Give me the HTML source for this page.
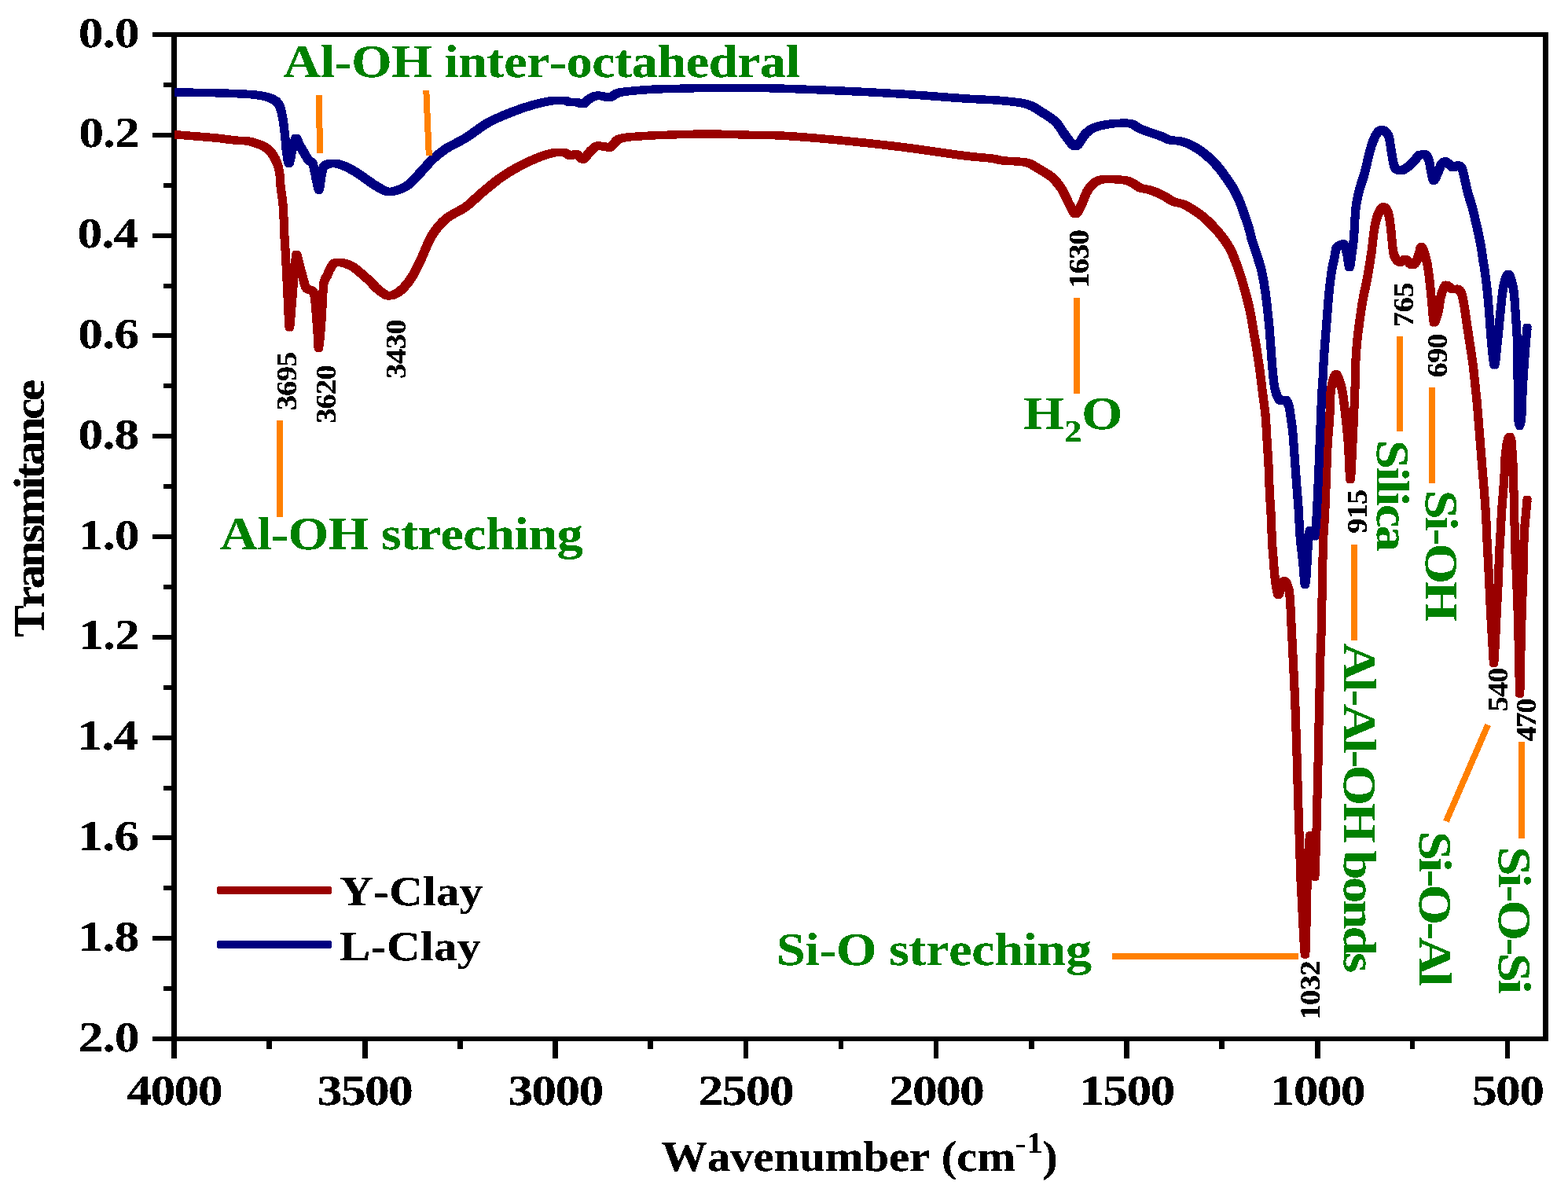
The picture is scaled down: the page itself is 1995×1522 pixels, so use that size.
<!DOCTYPE html>
<html lang="en"><head><meta charset="utf-8"><title>FTIR spectra of Y-Clay and L-Clay</title>
<style>html,body{margin:0;padding:0;background:#fff}svg{display:block}text{font-family:"Liberation Serif","DejaVu Serif",serif;font-weight:bold;font-kerning:none;white-space:pre}</style></head><body>
<svg width="1995" height="1522" viewBox="0 0 1995 1522">
<rect width="1995" height="1522" fill="#fff"/>
<path fill="#000" shape-rendering="crispEdges" d="M218 41H1970V47H218ZM218 1319H1970V1325H218ZM218 41H225V1325H218ZM1963 41H1970V1325H1963ZM194 41H219V47H194ZM208 105H219V111H208ZM194 169H219V175H194ZM208 233H219V239H208ZM194 297H219V303H194ZM208 361H219V367H208ZM194 424H219V430H194ZM208 488H219V494H208ZM194 552H219V558H194ZM208 616H219V622H208ZM194 680H219V686H194ZM208 744H219V750H208ZM194 808H219V814H194ZM208 872H219V878H208ZM194 936H219V942H194ZM208 1000H219V1006H208ZM194 1063H219V1069H194ZM208 1127H219V1133H208ZM194 1191H219V1197H194ZM208 1255H219V1261H208ZM194 1319H219V1325H194ZM218 1324H225V1347H218ZM339 1324H346V1335H339ZM461 1324H468V1347H461ZM582 1324H589V1335H582ZM703 1324H710V1347H703ZM824 1324H831V1335H824ZM946 1324H952V1347H946ZM1067 1324H1073V1335H1067ZM1188 1324H1194V1347H1188ZM1309 1324H1316V1335H1309ZM1430 1324H1437V1347H1430ZM1551 1324H1558V1335H1551ZM1673 1324H1680V1347H1673ZM1794 1324H1800V1335H1794ZM1915 1324H1921V1347H1915Z"/>
<clipPath id="plot"><rect x="222" y="44" width="1744.5" height="1278"/></clipPath>
<g clip-path="url(#plot)"><g fill="none" shape-rendering="crispEdges" stroke-linejoin="round" stroke-linecap="round" stroke-width="7">
<g stroke="#990000">
<path d="M219.5 169.5C224.2 169.9 239 171.1 248 171.8C257 172.6 265.4 173.2 273.7 174C282 174.9 291.4 176.3 298 176.9C304.6 177.6 308.8 177.4 313 177.9C317.2 178.5 319.9 179.5 323 180.4C326.1 181.4 329.1 182.3 331.8 183.7C334.5 185 337.1 186.6 339.4 188.7C341.7 190.7 343.7 193.2 345.6 196.2C347.5 199.1 349.2 202.4 350.6 206.2C352 209.9 353.1 213.9 353.8 218.8C354.5 223.6 354.4 229.1 355 234.9C355.6 240.8 356.9 248.2 357.5 253.8C358.1 259.3 358.5 262.4 358.8 268.4C359.1 274.3 359 280.9 359.4 289.7C359.8 298.4 360.7 309.6 361.3 321.1C361.9 332.6 362.7 348.2 363.2 358.7C363.7 369.1 363.9 374.3 364.4 383.7C364.9 393 365.5 414.9 366.3 414.9C367.1 414.9 368.5 394.1 369.4 383.7C370.3 373.2 370.9 362.6 371.9 352.4C372.8 342.1 374 325.1 375.1 322.2C376.2 322.2 377.5 329.9 378.8 334.8C380.1 339.6 381.8 346.2 383.2 351.1C384.6 355.9 385.6 361 387 363.7C388.4 366.3 389.9 366.3 391.4 367.2C392.8 368 394.5 367.2 395.7 368.7C396.9 370.2 397.6 371.6 398.3 376.2C399 380.7 399.5 388.6 400.1 396.2C400.7 403.7 401.5 413.8 402 421.2C402.5 428.8 402.7 441.2 403.3 441.2C403.9 441.2 405.1 428.8 405.8 421.2C406.5 413.8 407.1 404.5 407.6 396.2C408.1 387.8 408.5 377.6 408.9 371.2C409.3 364.7 409.3 361.1 410.2 357.4C411.1 353.6 413.1 351.5 414.5 348.6C415.9 345.6 416.8 342.4 418.3 339.9C419.8 337.3 421.4 334.5 423.3 333.2C425.2 332.2 427.5 332.2 429.6 332.2C431.7 332.2 433.1 332.4 435.8 333.2C438.5 334.1 442.5 335.3 445.9 337.2C449.2 339.2 452.3 341.9 455.9 344.9C459.4 347.8 463.2 351.1 467.2 354.9C471.2 358.6 475.5 364 479.7 367.4C483.9 370.7 488.2 374.2 492.2 374.9C496.2 374.9 499.9 373.2 503.5 371.2C507.1 369.1 510.1 366.1 513.5 362.4C516.9 358.6 520.2 354.2 523.6 348.6C527 342.9 529.5 337.1 533.6 328.6C537.7 320 542.6 306 548 297.4C553.4 288.7 558.6 282.5 565.7 276.6C572.8 270.6 583.2 267 590.7 261.6C598.2 256.1 603.3 250.2 610.8 243.9C618.3 237.7 627.4 229.8 635.8 223.9C644.1 218.1 652.5 213.2 660.9 208.8C669.3 204.4 678.9 200.3 686 197.5C693.1 194.8 698.5 193.4 703.5 192.5C708.5 192.5 712.6 192.5 716 192.5C719.4 193.2 721.1 196 723.6 196.3C726.1 196.3 728.3 194.3 731 194.3C733.7 195.1 737 200.8 739.9 200.8C742.8 200.3 745.5 194.2 748.6 191.3C751.7 188.5 754.5 184.8 758.7 183.8C762.9 183.8 769.1 185.8 773.7 185.8C778.3 184.4 779.9 177.4 786.2 175C792.5 172.7 800.8 172.6 811.3 171.8C821.8 170.9 834.3 170.5 848.9 170C863.5 169.5 882.3 168.8 899 168.8C915.7 168.8 932.6 169.6 949.1 170C965.6 170.5 977.3 170 998 171.2C1018.7 172.5 1048.1 175.1 1073.2 177.5C1098.3 180 1123.3 182.7 1148.4 185.8C1173.5 189 1204.8 194 1223.6 196.3C1242.4 198.7 1252.8 199.1 1261.2 200.2C1269.6 201.2 1266.6 201.8 1273.7 202.7C1280.8 203.5 1296.3 203.5 1303.8 205.2C1311.3 206.8 1313.4 209.5 1318.8 212.7C1324.2 215.8 1331.3 219.6 1336.3 223.9C1341.3 228.3 1345.1 233.1 1348.9 238.9C1352.7 244.8 1356 253.8 1358.9 259.1C1361.8 264.3 1363.9 270.6 1366.4 270.6C1368.9 270.6 1371.4 263.9 1373.9 259.1C1376.4 254.2 1378.6 246.3 1381.5 241.4C1384.4 236.6 1387.8 232.7 1391.5 230.2C1395.2 227.6 1397.7 226.8 1404 226.3C1410.3 226.3 1423.2 226.8 1429.1 227.7C1434.9 228.5 1435.8 229.7 1439.1 231.3C1442.4 233 1445.3 236.2 1449.1 237.7C1452.9 239.1 1456.7 238.6 1461.7 240.2C1466.7 241.9 1474.4 245.3 1479.2 247.8C1484 250.2 1486.5 253.1 1490.5 254.8C1494.5 256.6 1498.8 256.4 1503 258.1C1507.2 259.7 1511.4 262.4 1515.6 265C1519.8 267.6 1523.9 270.2 1528.1 273.7C1532.3 277.1 1536.5 281.2 1540.7 285.6C1544.9 289.9 1549.5 295.1 1553.2 300.1C1557 305 1560.6 310.3 1563.2 315.1C1565.8 319.8 1567 323.6 1568.9 328.4C1570.8 333.1 1572.3 336.8 1574.5 343.5C1576.7 350.1 1579.7 360.1 1582 368.5C1584.3 376.8 1586.5 385.2 1588.3 393.6C1590.1 401.9 1591.2 410.3 1592.7 418.7C1594.2 427 1595.7 435.3 1597 443.7C1598.3 452 1599.6 460.4 1600.8 468.8C1602 477.1 1603.1 487.1 1603.9 493.8C1604.7 500.4 1605.1 502.4 1605.8 508.4C1606.5 514.3 1607.6 520.9 1608.3 529.6C1609 538.4 1609.6 550.6 1610.2 561.1C1610.8 571.5 1611.6 581.9 1612.1 592.4C1612.6 602.8 1612.8 613.2 1613.3 623.6C1613.8 634.1 1614.7 644.2 1615.2 655C1615.7 665.7 1616.1 680.3 1616.5 688.4C1616.9 696.4 1617.2 696.8 1617.7 703.5C1618.2 710.1 1618.9 721.3 1619.6 728.5C1620.3 735.6 1621.2 741.9 1622 746.4C1622.8 750.8 1623.6 755.1 1624.6 755.1C1625.6 755.1 1626.8 749.2 1628 746.4C1629.2 743.5 1630.5 737.9 1632.1 737.9C1633.7 738.2 1636.5 743.9 1637.8 748.6C1639.1 753.3 1639.2 759 1639.7 766.1C1640.2 773.2 1640.5 782.8 1640.9 791.1C1641.3 799.5 1641.8 807.8 1642.2 816.1C1642.6 824.5 1643 832.5 1643.4 841.2C1643.8 850 1644.3 859.2 1644.7 868.4C1645.1 877.5 1645.5 885.1 1645.9 896C1646.3 906.8 1646.8 921 1647.2 933.6C1647.6 946.1 1648 958.6 1648.4 971.1C1648.8 983.7 1649 995.9 1649.4 1008.8C1649.8 1021.6 1650.3 1037.1 1650.7 1048.3C1651.1 1059.5 1651.2 1065.1 1651.6 1075.9C1651.9 1086.8 1652.3 1101 1652.8 1113.5C1653.3 1126.1 1654.1 1138.6 1654.7 1151.1C1655.3 1163.7 1656 1178.5 1656.6 1188.8C1657.2 1199 1658 1212.9 1658.5 1212.9C1659 1212.9 1659.5 1199.1 1659.8 1188.3C1660.1 1177.6 1660.2 1161.7 1660.5 1148.3C1660.8 1135 1661.2 1119.2 1661.6 1108.3C1662 1097.5 1662.2 1091.1 1662.8 1083.3C1663.4 1075.6 1664.2 1061.8 1665 1061.8C1665.8 1061.8 1667 1076.4 1667.8 1083.3C1668.6 1090.3 1669.5 1098.2 1670 1103.3C1670.5 1108.4 1670.7 1113.9 1671 1113.9C1671.3 1113.6 1671.5 1107.4 1671.7 1101C1671.9 1094.7 1672 1084.7 1672.2 1075.9C1672.5 1067.2 1672.9 1059.5 1673.2 1048.3C1673.5 1037.1 1673.8 1021.6 1674.1 1008.8C1674.4 995.9 1674.7 983.7 1675 971.1C1675.3 958.6 1675.4 946.1 1675.7 933.6C1676 921 1676.3 906.8 1676.6 896C1676.8 885.1 1677 878.5 1677.2 868.4C1677.4 858.2 1677.6 845.7 1677.9 835C1678.2 824.2 1678.8 814.1 1679.1 803.6C1679.4 793.2 1679.6 782.8 1679.8 772.4C1680 761.9 1680.2 751.5 1680.4 741.1C1680.6 730.6 1680.7 720.1 1681 709.6C1681.3 699.2 1681.6 687.5 1682 678.4C1682.4 669.2 1683 664.1 1683.5 655C1684 645.8 1684.4 634.1 1684.8 623.6C1685.2 613.2 1685.6 602.8 1686 592.4C1686.4 581.9 1686.7 571.5 1687.3 561.1C1687.9 550.6 1689.2 540.1 1689.8 529.6C1690.4 519.2 1690.3 506.2 1691 498.4C1691.7 490.5 1692.8 486.3 1694 482.4C1695.2 478.4 1696.6 474.8 1697.9 474.8C1699.2 474.8 1700.6 478.4 1702 482.4C1703.4 486.3 1705 490.7 1706.3 498.4C1707.6 506 1708.8 517.9 1710 528.4C1711.2 538.8 1712.2 547.7 1713.2 561.1C1714.2 574.4 1715.1 608.6 1716.1 608.6C1717.1 608.6 1718 579.4 1719 561.1C1720 542.7 1721.1 515.8 1721.8 498.4C1722.5 480.9 1722.5 467.4 1723 456.2C1723.5 445 1724.1 439.5 1724.9 431.2C1725.7 422.8 1726.8 414.4 1728 406.1C1729.2 397.7 1730.1 390.4 1731.8 381.1C1733.5 371.7 1736.2 360.1 1738.1 349.7C1740 339.2 1741.6 328.5 1743.1 318.4C1744.5 308.2 1745.3 296.8 1746.8 288.8C1748.2 280.7 1749.9 274.5 1751.8 270C1753.7 265.5 1756 261.8 1758.1 261.8C1760.2 261.8 1762.8 265.5 1764.4 270C1766 274.5 1766.7 282.5 1767.5 288.8C1768.3 295 1768.7 301.7 1769.4 307.6C1770.1 313.4 1770.2 319.8 1771.9 323.9C1773.6 328 1777.1 331.4 1779.4 332.2C1781.7 332.2 1783.2 328.2 1785.7 328.2C1788.2 328.7 1792.1 335 1794.4 335.7C1796.7 335.7 1798 334.4 1799.5 332.2C1801 329.9 1802 325.4 1803.2 322.2C1804.4 318.9 1804.8 312.8 1806.5 312.8C1808.2 314.2 1811.5 323.7 1813.2 330.9C1815 338.1 1816 347.6 1817 356C1818 364.3 1818.6 372.2 1819.5 381.1C1820.4 389.9 1821.1 406.8 1822.6 408.9C1824.1 408.9 1826.8 399.2 1828.3 393.6C1829.8 387.9 1829.8 380.2 1831.4 374.8C1833 369.3 1835.3 362.3 1837.7 361C1840.1 361 1843.4 365.7 1845.8 366.6C1848.2 366.6 1850.2 366 1852.1 366C1854 366.7 1855.6 367.4 1857.1 371C1858.6 374.5 1859.7 380.4 1860.9 387.2C1862.2 394.1 1863.3 404 1864.6 412.4C1865.8 420.7 1867.2 429 1868.4 437.4C1869.7 445.7 1871 454.1 1872.1 462.5C1873.2 470.8 1874 479.9 1874.8 487.6C1875.6 495.2 1876.3 501.3 1877 508.4C1877.7 515.4 1878.1 520.9 1878.8 529.6C1879.5 538.4 1880.5 550.6 1881.3 561.1C1882.1 571.5 1882.9 581.9 1883.8 592.4C1884.7 602.8 1885.6 613.2 1886.4 623.6C1887.2 634.1 1888 644.2 1888.6 655C1889.2 665.7 1889.6 678.2 1890.1 688.4C1890.6 698.5 1891 705.1 1891.6 716C1892.1 726.8 1892.8 741 1893.4 753.6C1894 766.1 1894.7 779.7 1895.3 791.1C1895.9 802.6 1896.7 813.9 1897.2 822.5C1897.7 831 1898.1 841.2 1898.5 842.2C1898.9 842.2 1899.3 835.2 1899.7 828.8C1900.1 822.3 1900.6 812 1901 803.6C1901.4 795.3 1901.8 787 1902.2 778.6C1902.6 770.3 1903.1 761.9 1903.5 753.6C1903.9 745.2 1904.4 736.8 1904.7 728.5C1905 720.1 1905.2 710.5 1905.5 703.5C1905.8 696.4 1906.2 693 1906.6 686.4C1907 679.7 1907.4 670.5 1907.8 663.4C1908.2 656.2 1908.5 650 1909 643.4C1909.5 636.7 1910.1 630 1910.6 623.4C1911.1 616.7 1911.7 608.5 1912 603.4C1912.3 598.2 1912.1 596.1 1912.3 592.4C1912.5 588.6 1912.7 584.1 1913 581C1913.3 577.8 1913.5 576.6 1913.9 573.4C1914.3 570.1 1914.8 564.5 1915.6 561.4C1916.4 558.2 1917.7 554.4 1918.6 554.4C1919.5 554.4 1920.5 557.4 1921.1 561C1921.7 564.6 1921.9 571.4 1922.2 576C1922.5 580.5 1922.8 583.8 1923 588.4C1923.2 592.9 1923.1 597.5 1923.3 603.4C1923.5 609.2 1923.8 616.1 1924 623.6C1924.2 631.2 1924.6 638.3 1924.8 648.8C1925 659.2 1925 673.1 1925.4 686.4C1925.8 699.6 1926.7 713.1 1927.3 728.5C1927.9 743.8 1928.7 761.9 1929.2 778.6C1929.7 795.4 1930 811.7 1930.4 828.8C1930.8 845.8 1931.3 881 1931.7 881C1932.1 881 1932.5 845.8 1932.9 828.8C1933.3 811.7 1933.7 795.4 1934.2 778.6C1934.7 761.9 1935.5 745.1 1936 728.4C1936.5 711.6 1936.8 690.6 1937.3 678.4C1937.8 666.1 1938.6 662.2 1939.2 655C1939.8 647.7 1940.8 638 1941.1 634.6"/>
<path d="M223.5 169.5C228.2 169.9 243 171.1 252 171.8C261 172.6 269.4 173.2 277.7 174C286 174.9 295.4 176.3 302 176.9C308.6 177.6 312.8 177.4 317 177.9C321.2 178.5 323.9 179.5 327 180.4C330.1 181.4 333.1 182.3 335.8 183.7C338.5 185 341.1 186.6 343.4 188.7C345.7 190.7 347.7 193.2 349.6 196.2C351.5 199.1 353.2 202.4 354.6 206.2C356 209.9 357.1 213.9 357.8 218.8C358.5 223.6 358.4 229.1 359 234.9C359.6 240.8 360.9 248.2 361.5 253.8C362.1 259.3 362.5 262.4 362.8 268.4C363.1 274.3 363 280.9 363.4 289.7C363.8 298.4 364.7 309.6 365.3 321.1C365.9 332.6 366.7 348.2 367.2 358.7C367.7 369.1 367.9 374.3 368.4 383.7C368.9 393 369.5 414.9 370.3 414.9C371.1 414.9 372.5 394.1 373.4 383.7C374.3 373.2 374.9 362.6 375.9 352.4C376.8 342.1 378 325.1 379.1 322.2C380.2 322.2 381.5 329.9 382.8 334.8C384.1 339.6 385.8 346.2 387.2 351.1C388.6 355.9 389.6 361 391 363.7C392.4 366.3 393.9 366.3 395.4 367.2C396.8 368 398.5 367.2 399.7 368.7C400.9 370.2 401.6 371.6 402.3 376.2C403 380.7 403.5 388.6 404.1 396.2C404.7 403.7 405.5 413.8 406 421.2C406.5 428.8 406.7 441.2 407.3 441.2C407.9 441.2 409.1 428.8 409.8 421.2C410.5 413.8 411.1 404.5 411.6 396.2C412.1 387.8 412.5 377.6 412.9 371.2C413.3 364.7 413.3 361.1 414.2 357.4C415.1 353.6 417.1 351.5 418.5 348.6C419.9 345.6 420.8 342.4 422.3 339.9C423.8 337.3 425.4 334.5 427.3 333.2C429.2 332.2 431.5 332.2 433.6 332.2C435.7 332.2 437.1 332.4 439.8 333.2C442.5 334.1 446.5 335.3 449.9 337.2C453.2 339.2 456.3 341.9 459.9 344.9C463.4 347.8 467.2 351.1 471.2 354.9C475.2 358.6 479.5 364 483.7 367.4C487.9 370.7 492.2 374.2 496.2 374.9C500.2 374.9 503.9 373.2 507.5 371.2C511.1 369.1 514.1 366.1 517.5 362.4C520.9 358.6 524.2 354.2 527.6 348.6C531 342.9 533.5 337.1 537.6 328.6C541.7 320 546.6 306 552 297.4C557.4 288.7 562.6 282.5 569.7 276.6C576.8 270.6 587.2 267 594.7 261.6C602.2 256.1 607.3 250.2 614.8 243.9C622.3 237.7 631.4 229.8 639.8 223.9C648.1 218.1 656.5 213.2 664.9 208.8C673.3 204.4 682.9 200.3 690 197.5C697.1 194.8 702.5 193.4 707.5 192.5C712.5 192.5 716.6 192.5 720 192.5C723.4 193.2 725.1 196 727.6 196.3C730.1 196.3 732.3 194.3 735 194.3C737.7 195.1 741 200.8 743.9 200.8C746.8 200.3 749.5 194.2 752.6 191.3C755.7 188.5 758.5 184.8 762.7 183.8C766.9 183.8 773.1 185.8 777.7 185.8C782.3 184.4 783.9 177.4 790.2 175C796.5 172.7 804.8 172.6 815.3 171.8C825.8 170.9 838.3 170.5 852.9 170C867.5 169.5 886.3 168.8 903 168.8C919.7 168.8 936.6 169.6 953.1 170C969.6 170.5 981.3 170 1002 171.2C1022.7 172.5 1052.1 175.1 1077.2 177.5C1102.3 180 1127.3 182.7 1152.4 185.8C1177.5 189 1208.8 194 1227.6 196.3C1246.4 198.7 1256.8 199.1 1265.2 200.2C1273.6 201.2 1270.6 201.8 1277.7 202.7C1284.8 203.5 1300.3 203.5 1307.8 205.2C1315.3 206.8 1317.4 209.5 1322.8 212.7C1328.2 215.8 1335.3 219.6 1340.3 223.9C1345.3 228.3 1349.1 233.1 1352.9 238.9C1356.7 244.8 1360 253.8 1362.9 259.1C1365.8 264.3 1367.9 270.6 1370.4 270.6C1372.9 270.6 1375.4 263.9 1377.9 259.1C1380.4 254.2 1382.6 246.3 1385.5 241.4C1388.4 236.6 1391.8 232.7 1395.5 230.2C1399.2 227.6 1401.7 226.8 1408 226.3C1414.3 226.3 1427.2 226.8 1433.1 227.7C1438.9 228.5 1439.8 229.7 1443.1 231.3C1446.4 233 1449.3 236.2 1453.1 237.7C1456.9 239.1 1460.7 238.6 1465.7 240.2C1470.7 241.9 1478.4 245.3 1483.2 247.8C1488 250.2 1490.5 253.1 1494.5 254.8C1498.5 256.6 1502.8 256.4 1507 258.1C1511.2 259.7 1515.4 262.4 1519.6 265C1523.8 267.6 1527.9 270.2 1532.1 273.7C1536.3 277.1 1540.5 281.2 1544.7 285.6C1548.9 289.9 1553.5 295.1 1557.2 300.1C1561 305 1564.6 310.3 1567.2 315.1C1569.8 319.8 1571 323.6 1572.9 328.4C1574.8 333.1 1576.3 336.8 1578.5 343.5C1580.7 350.1 1583.7 360.1 1586 368.5C1588.3 376.8 1590.5 385.2 1592.3 393.6C1594.1 401.9 1595.2 410.3 1596.7 418.7C1598.2 427 1599.7 435.3 1601 443.7C1602.3 452 1603.6 460.4 1604.8 468.8C1606 477.1 1607.1 487.1 1607.9 493.8C1608.7 500.4 1609.1 502.4 1609.8 508.4C1610.5 514.3 1611.6 520.9 1612.3 529.6C1613 538.4 1613.6 550.6 1614.2 561.1C1614.8 571.5 1615.6 581.9 1616.1 592.4C1616.6 602.8 1616.8 613.2 1617.3 623.6C1617.8 634.1 1618.7 644.2 1619.2 655C1619.7 665.7 1620.1 680.3 1620.5 688.4C1620.9 696.4 1621.2 696.8 1621.7 703.5C1622.2 710.1 1622.9 721.3 1623.6 728.5C1624.3 735.6 1625.2 741.9 1626 746.4C1626.8 750.8 1627.6 755.1 1628.6 755.1C1629.6 755.1 1630.8 749.2 1632 746.4C1633.2 743.5 1634.5 737.9 1636.1 737.9C1637.7 738.2 1640.5 743.9 1641.8 748.6C1643.1 753.3 1643.2 759 1643.7 766.1C1644.2 773.2 1644.5 782.8 1644.9 791.1C1645.3 799.5 1645.8 807.8 1646.2 816.1C1646.6 824.5 1647 832.5 1647.4 841.2C1647.8 850 1648.3 859.2 1648.7 868.4C1649.1 877.5 1649.5 885.1 1649.9 896C1650.3 906.8 1650.8 921 1651.2 933.6C1651.6 946.1 1652 958.6 1652.4 971.1C1652.8 983.7 1653 995.9 1653.4 1008.8C1653.8 1021.6 1654.3 1037.1 1654.7 1048.3C1655.1 1059.5 1655.2 1065.1 1655.6 1075.9C1655.9 1086.8 1656.3 1101 1656.8 1113.5C1657.3 1126.1 1658.1 1138.6 1658.7 1151.1C1659.3 1163.7 1660 1178.5 1660.6 1188.8C1661.2 1199 1662 1212.9 1662.5 1212.9C1663 1212.9 1663.5 1199.1 1663.8 1188.3C1664.1 1177.6 1664.2 1161.7 1664.5 1148.3C1664.8 1135 1665.2 1119.2 1665.6 1108.3C1666 1097.5 1666.2 1091.1 1666.8 1083.3C1667.4 1075.6 1668.2 1061.8 1669 1061.8C1669.8 1061.8 1671 1076.4 1671.8 1083.3C1672.6 1090.3 1673.5 1098.2 1674 1103.3C1674.5 1108.4 1674.7 1113.9 1675 1113.9C1675.3 1113.6 1675.5 1107.4 1675.7 1101C1675.9 1094.7 1676 1084.7 1676.2 1075.9C1676.5 1067.2 1676.9 1059.5 1677.2 1048.3C1677.5 1037.1 1677.8 1021.6 1678.1 1008.8C1678.4 995.9 1678.7 983.7 1679 971.1C1679.3 958.6 1679.4 946.1 1679.7 933.6C1680 921 1680.3 906.8 1680.6 896C1680.8 885.1 1681 878.5 1681.2 868.4C1681.4 858.2 1681.6 845.7 1681.9 835C1682.2 824.2 1682.8 814.1 1683.1 803.6C1683.4 793.2 1683.6 782.8 1683.8 772.4C1684 761.9 1684.2 751.5 1684.4 741.1C1684.6 730.6 1684.7 720.1 1685 709.6C1685.3 699.2 1685.6 687.5 1686 678.4C1686.4 669.2 1687 664.1 1687.5 655C1688 645.8 1688.4 634.1 1688.8 623.6C1689.2 613.2 1689.6 602.8 1690 592.4C1690.4 581.9 1690.7 571.5 1691.3 561.1C1691.9 550.6 1693.2 540.1 1693.8 529.6C1694.4 519.2 1694.3 506.2 1695 498.4C1695.7 490.5 1696.8 486.3 1698 482.4C1699.2 478.4 1700.6 474.8 1701.9 474.8C1703.2 474.8 1704.6 478.4 1706 482.4C1707.4 486.3 1709 490.7 1710.3 498.4C1711.6 506 1712.8 517.9 1714 528.4C1715.2 538.8 1716.2 547.7 1717.2 561.1C1718.2 574.4 1719.1 608.6 1720.1 608.6C1721.1 608.6 1722 579.4 1723 561.1C1724 542.7 1725.1 515.8 1725.8 498.4C1726.5 480.9 1726.5 467.4 1727 456.2C1727.5 445 1728.1 439.5 1728.9 431.2C1729.7 422.8 1730.8 414.4 1732 406.1C1733.2 397.7 1734.1 390.4 1735.8 381.1C1737.5 371.7 1740.2 360.1 1742.1 349.7C1744 339.2 1745.6 328.5 1747.1 318.4C1748.5 308.2 1749.3 296.8 1750.8 288.8C1752.2 280.7 1753.9 274.5 1755.8 270C1757.7 265.5 1760 261.8 1762.1 261.8C1764.2 261.8 1766.8 265.5 1768.4 270C1770 274.5 1770.7 282.5 1771.5 288.8C1772.3 295 1772.7 301.7 1773.4 307.6C1774.1 313.4 1774.2 319.8 1775.9 323.9C1777.6 328 1781.1 331.4 1783.4 332.2C1785.7 332.2 1787.2 328.2 1789.7 328.2C1792.2 328.7 1796.1 335 1798.4 335.7C1800.7 335.7 1802 334.4 1803.5 332.2C1805 329.9 1806 325.4 1807.2 322.2C1808.4 318.9 1808.8 312.8 1810.5 312.8C1812.2 314.2 1815.5 323.7 1817.2 330.9C1819 338.1 1820 347.6 1821 356C1822 364.3 1822.6 372.2 1823.5 381.1C1824.4 389.9 1825.1 406.8 1826.6 408.9C1828.1 408.9 1830.8 399.2 1832.3 393.6C1833.8 387.9 1833.8 380.2 1835.4 374.8C1837 369.3 1839.3 362.3 1841.7 361C1844.1 361 1847.4 365.7 1849.8 366.6C1852.2 366.6 1854.2 366 1856.1 366C1858 366.7 1859.6 367.4 1861.1 371C1862.6 374.5 1863.7 380.4 1864.9 387.2C1866.2 394.1 1867.3 404 1868.6 412.4C1869.8 420.7 1871.2 429 1872.4 437.4C1873.7 445.7 1875 454.1 1876.1 462.5C1877.2 470.8 1878 479.9 1878.8 487.6C1879.6 495.2 1880.3 501.3 1881 508.4C1881.7 515.4 1882.1 520.9 1882.8 529.6C1883.5 538.4 1884.5 550.6 1885.3 561.1C1886.1 571.5 1886.9 581.9 1887.8 592.4C1888.7 602.8 1889.6 613.2 1890.4 623.6C1891.2 634.1 1892 644.2 1892.6 655C1893.2 665.7 1893.6 678.2 1894.1 688.4C1894.6 698.5 1895 705.1 1895.6 716C1896.1 726.8 1896.8 741 1897.4 753.6C1898 766.1 1898.7 779.7 1899.3 791.1C1899.9 802.6 1900.7 813.9 1901.2 822.5C1901.7 831 1902.1 841.2 1902.5 842.2C1902.9 842.2 1903.3 835.2 1903.7 828.8C1904.1 822.3 1904.6 812 1905 803.6C1905.4 795.3 1905.8 787 1906.2 778.6C1906.6 770.3 1907.1 761.9 1907.5 753.6C1907.9 745.2 1908.4 736.8 1908.7 728.5C1909 720.1 1909.2 710.5 1909.5 703.5C1909.8 696.4 1910.2 693 1910.6 686.4C1911 679.7 1911.4 670.5 1911.8 663.4C1912.2 656.2 1912.5 650 1913 643.4C1913.5 636.7 1914.1 630 1914.6 623.4C1915.1 616.7 1915.7 608.5 1916 603.4C1916.3 598.2 1916.1 596.1 1916.3 592.4C1916.5 588.6 1916.7 584.1 1917 581C1917.3 577.8 1917.5 576.6 1917.9 573.4C1918.3 570.1 1918.8 564.5 1919.6 561.4C1920.4 558.2 1921.7 554.4 1922.6 554.4C1923.5 554.4 1924.5 557.4 1925.1 561C1925.7 564.6 1925.9 571.4 1926.2 576C1926.5 580.5 1926.8 583.8 1927 588.4C1927.2 592.9 1927.1 597.5 1927.3 603.4C1927.5 609.2 1927.8 616.1 1928 623.6C1928.2 631.2 1928.6 638.3 1928.8 648.8C1929 659.2 1929 673.1 1929.4 686.4C1929.8 699.6 1930.7 713.1 1931.3 728.5C1931.9 743.8 1932.7 761.9 1933.2 778.6C1933.7 795.4 1934 811.7 1934.4 828.8C1934.8 845.8 1935.3 881 1935.7 881C1936.1 881 1936.5 845.8 1936.9 828.8C1937.3 811.7 1937.7 795.4 1938.2 778.6C1938.7 761.9 1939.5 745.1 1940 728.4C1940.5 711.6 1940.8 690.6 1941.3 678.4C1941.8 666.1 1942.6 662.2 1943.2 655C1943.8 647.7 1944.8 638 1945.1 634.6"/>
<path d="M219.5 172.8C224.2 173.2 239 174.4 248 175.2C257 175.9 265.4 176.5 273.7 177.3C282 178.2 291.4 179.6 298 180.2C304.6 180.9 308.8 180.7 313 181.2C317.2 181.8 319.9 182.8 323 183.8C326.1 184.7 329.1 185.6 331.8 187C334.5 188.3 337.1 189.9 339.4 192C341.7 194 343.7 196.5 345.6 199.5C347.5 202.4 349.2 205.7 350.6 209.5C352 213.2 353.1 217.2 353.8 222.1C354.5 226.9 354.4 232.4 355 238.2C355.6 244.1 356.9 251.5 357.5 257.1C358.1 262.6 358.5 265.7 358.8 271.6C359.1 277.6 359 284.2 359.4 292.9C359.8 301.7 360.7 312.8 361.3 324.3C361.9 335.8 362.7 351.5 363.2 361.9C363.7 372.4 363.9 377.6 364.4 386.9C364.9 396.3 365.5 418.1 366.3 418.1C367.1 418.1 368.5 397.4 369.4 386.9C370.3 376.5 370.9 365.9 371.9 355.6C372.8 345.4 374 328.4 375.1 325.4C376.2 325.4 377.5 333.2 378.8 338C380.1 342.9 381.8 349.5 383.2 354.3C384.6 359.2 385.6 364.3 387 366.9C388.4 369.6 389.9 369.6 391.4 370.4C392.8 371.3 394.5 370.4 395.7 371.9C396.9 373.4 397.6 374.9 398.3 379.4C399 384 399.5 391.9 400.1 399.4C400.7 407 401.5 417 402 424.5C402.5 432 402.7 444.4 403.3 444.4C403.9 444.4 405.1 432 405.8 424.5C406.5 417 407.1 407.8 407.6 399.4C408.1 391.1 408.5 380.9 408.9 374.4C409.3 368 409.3 364.4 410.2 360.6C411.1 356.9 413.1 354.8 414.5 351.8C415.9 348.9 416.8 345.7 418.3 343.1C419.8 340.6 421.4 337.8 423.3 336.5C425.2 335.5 427.5 335.5 429.6 335.5C431.7 335.5 433.1 335.7 435.8 336.5C438.5 337.4 442.5 338.6 445.9 340.5C449.2 342.5 452.3 345.2 455.9 348.1C459.4 351.1 463.2 354.4 467.2 358.1C471.2 361.9 475.5 367.3 479.7 370.6C483.9 374 488.2 377.5 492.2 378.1C496.2 378.1 499.9 376.5 503.5 374.4C507.1 372.4 510.1 369.4 513.5 365.6C516.9 361.9 520.2 357.5 523.6 351.8C527 346.2 529.5 340.4 533.6 331.8C537.7 323.3 542.6 309.3 548 300.6C553.4 292 558.6 285.8 565.7 279.8C572.8 273.9 583.2 270.3 590.7 264.8C598.2 259.4 603.3 253.5 610.8 247.2C618.3 241 627.4 233.1 635.8 227.2C644.1 221.4 652.5 216.6 660.9 212.2C669.3 207.8 678.9 203.6 686 200.8C693.1 198.1 698.5 196.7 703.5 195.8C708.5 195.8 712.6 195.8 716 195.8C719.4 196.5 721.1 199.3 723.6 199.7C726.1 199.7 728.3 197.7 731 197.7C733.7 198.4 737 204.2 739.9 204.2C742.8 203.7 745.5 197.5 748.6 194.7C751.7 191.8 754.5 188.1 758.7 187.2C762.9 187.2 769.1 189.2 773.7 189.2C778.3 187.7 779.9 180.7 786.2 178.3C792.5 176 800.8 175.9 811.3 175.1C821.8 174.2 834.3 173.8 848.9 173.3C863.5 172.8 882.3 172.1 899 172.1C915.7 172.1 932.6 172.9 949.1 173.3C965.6 173.8 977.3 173.3 998 174.6C1018.7 175.8 1048.1 178.4 1073.2 180.8C1098.3 183.3 1123.3 186 1148.4 189.2C1173.5 192.3 1204.8 197.3 1223.6 199.7C1242.4 202 1252.8 202.4 1261.2 203.5C1269.6 204.5 1266.6 205.1 1273.7 206C1280.8 206.8 1296.3 206.8 1303.8 208.5C1311.3 210.1 1313.4 212.8 1318.8 216C1324.2 219.1 1331.3 222.9 1336.3 227.2C1341.3 231.6 1345.1 236.4 1348.9 242.2C1352.7 248.1 1356 257.1 1358.9 262.3C1361.8 267.6 1363.9 273.8 1366.4 273.8C1368.9 273.8 1371.4 267.2 1373.9 262.3C1376.4 257.5 1378.6 249.6 1381.5 244.8C1384.4 239.9 1387.8 236 1391.5 233.5C1395.2 230.9 1397.7 230.1 1404 229.7C1410.3 229.7 1423.2 230.1 1429.1 231C1434.9 231.8 1435.8 233 1439.1 234.7C1442.4 236.3 1445.3 239.5 1449.1 241C1452.9 242.4 1456.7 241.9 1461.7 243.6C1466.7 245.2 1474.4 248.6 1479.2 251.1C1484 253.5 1486.5 256.4 1490.5 258.1C1494.5 259.9 1498.8 259.7 1503 261.3C1507.2 263 1511.4 265.6 1515.6 268.2C1519.8 270.9 1523.9 273.5 1528.1 276.9C1532.3 280.4 1536.5 284.4 1540.7 288.8C1544.9 293.2 1549.5 298.4 1553.2 303.3C1557 308.3 1560.6 313.6 1563.2 318.3C1565.8 323.1 1567 326.9 1568.9 331.6C1570.8 336.4 1572.3 340.1 1574.5 346.8C1576.7 353.4 1579.7 363.4 1582 371.8C1584.3 380.1 1586.5 388.5 1588.3 396.8C1590.1 405.2 1591.2 413.6 1592.7 421.9C1594.2 430.3 1595.7 438.6 1597 446.9C1598.3 455.3 1599.6 463.7 1600.8 472C1602 480.4 1603.1 490.4 1603.9 497C1604.7 503.6 1605.1 505.7 1605.8 511.6C1606.5 517.6 1607.6 524.2 1608.3 532.9C1609 541.7 1609.6 553.9 1610.2 564.4C1610.8 574.8 1611.6 585.2 1612.1 595.6C1612.6 606.1 1612.8 616.5 1613.3 626.9C1613.8 637.4 1614.7 647.5 1615.2 658.2C1615.7 669 1616.1 683.6 1616.5 691.6C1616.9 699.7 1617.2 700.1 1617.7 706.8C1618.2 713.4 1618.9 724.6 1619.6 731.8C1620.3 738.9 1621.2 745.2 1622 749.6C1622.8 754.1 1623.6 758.4 1624.6 758.4C1625.6 758.4 1626.8 752.5 1628 749.6C1629.2 746.8 1630.5 741.1 1632.1 741.1C1633.7 741.5 1636.5 747.1 1637.8 751.9C1639.1 756.6 1639.2 762.2 1639.7 769.4C1640.2 776.5 1640.5 786.1 1640.9 794.4C1641.3 802.8 1641.8 811.1 1642.2 819.4C1642.6 827.8 1643 835.8 1643.4 844.5C1643.8 853.2 1644.3 862.5 1644.7 871.6C1645.1 880.8 1645.5 888.4 1645.9 899.2C1646.3 910.1 1646.8 924.3 1647.2 936.9C1647.6 949.4 1648 961.9 1648.4 974.4C1648.8 987 1649 999.2 1649.4 1012C1649.8 1024.9 1650.3 1040.5 1650.7 1051.7C1651.1 1062.9 1651.2 1068.4 1651.6 1079.2C1651.9 1090.1 1652.3 1104.3 1652.8 1116.9C1653.3 1129.4 1654.1 1141.9 1654.7 1154.5C1655.3 1167 1656 1181.8 1656.6 1192.1C1657.2 1202.4 1658 1216.2 1658.5 1216.2C1659 1216.2 1659.5 1202.4 1659.8 1191.7C1660.1 1180.9 1660.2 1165 1660.5 1151.7C1660.8 1138.3 1661.2 1122.5 1661.6 1111.7C1662 1100.8 1662.2 1094.4 1662.8 1086.7C1663.4 1078.9 1664.2 1065.1 1665 1065.1C1665.8 1065.1 1667 1079.7 1667.8 1086.7C1668.6 1093.6 1669.5 1101.6 1670 1106.7C1670.5 1111.8 1670.7 1117.2 1671 1117.2C1671.3 1116.9 1671.5 1110.7 1671.7 1104.4C1671.9 1098 1672 1088 1672.2 1079.2C1672.5 1070.5 1672.9 1062.9 1673.2 1051.7C1673.5 1040.5 1673.8 1024.9 1674.1 1012C1674.4 999.2 1674.7 987 1675 974.4C1675.3 961.9 1675.4 949.4 1675.7 936.9C1676 924.3 1676.3 910.1 1676.6 899.2C1676.8 888.4 1677 881.8 1677.2 871.6C1677.4 861.5 1677.6 849 1677.9 838.2C1678.2 827.5 1678.8 817.4 1679.1 806.9C1679.4 796.5 1679.6 786.1 1679.8 775.6C1680 765.2 1680.2 754.8 1680.4 744.4C1680.6 733.9 1680.7 723.4 1681 712.9C1681.3 702.5 1681.6 690.8 1682 681.6C1682.4 672.5 1683 667.4 1683.5 658.2C1684 649.1 1684.4 637.4 1684.8 626.9C1685.2 616.5 1685.6 606.1 1686 595.6C1686.4 585.2 1686.7 574.8 1687.3 564.4C1687.9 553.9 1689.2 543.4 1689.8 532.9C1690.4 522.5 1690.3 509.5 1691 501.6C1691.7 493.8 1692.8 489.6 1694 485.6C1695.2 481.7 1696.6 478 1697.9 478C1699.2 478 1700.6 481.7 1702 485.6C1703.4 489.6 1705 494 1706.3 501.6C1707.6 509.3 1708.8 521.2 1710 531.6C1711.2 542.1 1712.2 551 1713.2 564.4C1714.2 577.7 1715.1 611.9 1716.1 611.9C1717.1 611.9 1718 582.7 1719 564.4C1720 546 1721.1 519.1 1721.8 501.6C1722.5 484.2 1722.5 470.6 1723 459.4C1723.5 448.2 1724.1 442.8 1724.9 434.4C1725.7 426.1 1726.8 417.7 1728 409.3C1729.2 401 1730.1 393.7 1731.8 384.3C1733.5 374.9 1736.2 363.4 1738.1 352.9C1740 342.5 1741.6 331.8 1743.1 321.6C1744.5 311.5 1745.3 300.1 1746.8 292C1748.2 284 1749.9 277.8 1751.8 273.2C1753.7 268.8 1756 265 1758.1 265C1760.2 265 1762.8 268.8 1764.4 273.2C1766 277.8 1766.7 285.8 1767.5 292C1768.3 298.3 1768.7 305 1769.4 310.8C1770.1 316.7 1770.2 323 1771.9 327.1C1773.6 331.2 1777.1 334.7 1779.4 335.4C1781.7 335.4 1783.2 331.4 1785.7 331.4C1788.2 332 1792.1 338.3 1794.4 338.9C1796.7 338.9 1798 337.7 1799.5 335.4C1801 333.2 1802 328.7 1803.2 325.4C1804.4 322.2 1804.8 316 1806.5 316C1808.2 317.5 1811.5 326.9 1813.2 334.1C1815 341.3 1816 350.9 1817 359.2C1818 367.6 1818.6 375.5 1819.5 384.3C1820.4 393.2 1821.1 410.1 1822.6 412.1C1824.1 412.1 1826.8 402.5 1828.3 396.8C1829.8 391.2 1829.8 383.5 1831.4 378C1833 372.6 1835.3 365.6 1837.7 364.2C1840.1 364.2 1843.4 369 1845.8 369.8C1848.2 369.8 1850.2 369.2 1852.1 369.2C1854 370 1855.6 370.7 1857.1 374.2C1858.6 377.8 1859.7 383.6 1860.9 390.5C1862.2 397.4 1863.3 407.3 1864.6 415.6C1865.8 424 1867.2 432.3 1868.4 440.6C1869.7 449 1871 457.4 1872.1 465.8C1873.2 474.1 1874 483.2 1874.8 490.8C1875.6 498.5 1876.3 504.6 1877 511.6C1877.7 518.7 1878.1 524.2 1878.8 532.9C1879.5 541.7 1880.5 553.9 1881.3 564.4C1882.1 574.8 1882.9 585.2 1883.8 595.6C1884.7 606.1 1885.6 616.5 1886.4 626.9C1887.2 637.4 1888 647.5 1888.6 658.2C1889.2 669 1889.6 681.5 1890.1 691.6C1890.6 701.8 1891 708.4 1891.6 719.2C1892.1 730.1 1892.8 744.3 1893.4 756.9C1894 769.4 1894.7 783 1895.3 794.4C1895.9 805.9 1896.7 817.2 1897.2 825.8C1897.7 834.3 1898.1 844.5 1898.5 845.5C1898.9 845.5 1899.3 838.5 1899.7 832C1900.1 825.6 1900.6 815.3 1901 806.9C1901.4 798.6 1901.8 790.3 1902.2 781.9C1902.6 773.6 1903.1 765.2 1903.5 756.9C1903.9 748.5 1904.4 740.1 1904.7 731.8C1905 723.4 1905.2 713.8 1905.5 706.8C1905.8 699.7 1906.2 696.3 1906.6 689.6C1907 683 1907.4 673.8 1907.8 666.6C1908.2 659.5 1908.5 653.3 1909 646.6C1909.5 640 1910.1 633.3 1910.6 626.6C1911.1 620 1911.7 611.8 1912 606.6C1912.3 601.5 1912.1 599.4 1912.3 595.6C1912.5 591.9 1912.7 587.4 1913 584.2C1913.3 581.1 1913.5 579.9 1913.9 576.6C1914.3 573.4 1914.8 567.8 1915.6 564.6C1916.4 561.5 1917.7 557.7 1918.6 557.6C1919.5 557.6 1920.5 560.6 1921.1 564.2C1921.7 567.9 1921.9 574.7 1922.2 579.2C1922.5 583.8 1922.8 587.1 1923 591.6C1923.2 596.2 1923.1 600.8 1923.3 606.6C1923.5 612.5 1923.8 619.4 1924 626.9C1924.2 634.5 1924.6 641.6 1924.8 652C1925 662.5 1925 676.4 1925.4 689.6C1925.8 702.9 1926.7 716.4 1927.3 731.8C1927.9 747.1 1928.7 765.2 1929.2 781.9C1929.7 798.7 1930 815 1930.4 832C1930.8 849.1 1931.3 884.2 1931.7 884.2C1932.1 884.2 1932.5 849.1 1932.9 832C1933.3 815 1933.7 798.7 1934.2 781.9C1934.7 765.2 1935.5 748.4 1936 731.6C1936.5 714.9 1936.8 693.9 1937.3 681.6C1937.8 669.4 1938.6 665.5 1939.2 658.2C1939.8 651 1940.8 641.2 1941.1 637.9"/>
<path d="M223.5 172.8C228.2 173.2 243 174.4 252 175.2C261 175.9 269.4 176.5 277.7 177.3C286 178.2 295.4 179.6 302 180.2C308.6 180.9 312.8 180.7 317 181.2C321.2 181.8 323.9 182.8 327 183.8C330.1 184.7 333.1 185.6 335.8 187C338.5 188.3 341.1 189.9 343.4 192C345.7 194 347.7 196.5 349.6 199.5C351.5 202.4 353.2 205.7 354.6 209.5C356 213.2 357.1 217.2 357.8 222.1C358.5 226.9 358.4 232.4 359 238.2C359.6 244.1 360.9 251.5 361.5 257.1C362.1 262.6 362.5 265.7 362.8 271.6C363.1 277.6 363 284.2 363.4 292.9C363.8 301.7 364.7 312.8 365.3 324.3C365.9 335.8 366.7 351.5 367.2 361.9C367.7 372.4 367.9 377.6 368.4 386.9C368.9 396.3 369.5 418.1 370.3 418.1C371.1 418.1 372.5 397.4 373.4 386.9C374.3 376.5 374.9 365.9 375.9 355.6C376.8 345.4 378 328.4 379.1 325.4C380.2 325.4 381.5 333.2 382.8 338C384.1 342.9 385.8 349.5 387.2 354.3C388.6 359.2 389.6 364.3 391 366.9C392.4 369.6 393.9 369.6 395.4 370.4C396.8 371.3 398.5 370.4 399.7 371.9C400.9 373.4 401.6 374.9 402.3 379.4C403 384 403.5 391.9 404.1 399.4C404.7 407 405.5 417 406 424.5C406.5 432 406.7 444.4 407.3 444.4C407.9 444.4 409.1 432 409.8 424.5C410.5 417 411.1 407.8 411.6 399.4C412.1 391.1 412.5 380.9 412.9 374.4C413.3 368 413.3 364.4 414.2 360.6C415.1 356.9 417.1 354.8 418.5 351.8C419.9 348.9 420.8 345.7 422.3 343.1C423.8 340.6 425.4 337.8 427.3 336.5C429.2 335.5 431.5 335.5 433.6 335.5C435.7 335.5 437.1 335.7 439.8 336.5C442.5 337.4 446.5 338.6 449.9 340.5C453.2 342.5 456.3 345.2 459.9 348.1C463.4 351.1 467.2 354.4 471.2 358.1C475.2 361.9 479.5 367.3 483.7 370.6C487.9 374 492.2 377.5 496.2 378.1C500.2 378.1 503.9 376.5 507.5 374.4C511.1 372.4 514.1 369.4 517.5 365.6C520.9 361.9 524.2 357.5 527.6 351.8C531 346.2 533.5 340.4 537.6 331.8C541.7 323.3 546.6 309.3 552 300.6C557.4 292 562.6 285.8 569.7 279.8C576.8 273.9 587.2 270.3 594.7 264.8C602.2 259.4 607.3 253.5 614.8 247.2C622.3 241 631.4 233.1 639.8 227.2C648.1 221.4 656.5 216.6 664.9 212.2C673.3 207.8 682.9 203.6 690 200.8C697.1 198.1 702.5 196.7 707.5 195.8C712.5 195.8 716.6 195.8 720 195.8C723.4 196.5 725.1 199.3 727.6 199.7C730.1 199.7 732.3 197.7 735 197.7C737.7 198.4 741 204.2 743.9 204.2C746.8 203.7 749.5 197.5 752.6 194.7C755.7 191.8 758.5 188.1 762.7 187.2C766.9 187.2 773.1 189.2 777.7 189.2C782.3 187.7 783.9 180.7 790.2 178.3C796.5 176 804.8 175.9 815.3 175.1C825.8 174.2 838.3 173.8 852.9 173.3C867.5 172.8 886.3 172.1 903 172.1C919.7 172.1 936.6 172.9 953.1 173.3C969.6 173.8 981.3 173.3 1002 174.6C1022.7 175.8 1052.1 178.4 1077.2 180.8C1102.3 183.3 1127.3 186 1152.4 189.2C1177.5 192.3 1208.8 197.3 1227.6 199.7C1246.4 202 1256.8 202.4 1265.2 203.5C1273.6 204.5 1270.6 205.1 1277.7 206C1284.8 206.8 1300.3 206.8 1307.8 208.5C1315.3 210.1 1317.4 212.8 1322.8 216C1328.2 219.1 1335.3 222.9 1340.3 227.2C1345.3 231.6 1349.1 236.4 1352.9 242.2C1356.7 248.1 1360 257.1 1362.9 262.3C1365.8 267.6 1367.9 273.8 1370.4 273.8C1372.9 273.8 1375.4 267.2 1377.9 262.3C1380.4 257.5 1382.6 249.6 1385.5 244.8C1388.4 239.9 1391.8 236 1395.5 233.5C1399.2 230.9 1401.7 230.1 1408 229.7C1414.3 229.7 1427.2 230.1 1433.1 231C1438.9 231.8 1439.8 233 1443.1 234.7C1446.4 236.3 1449.3 239.5 1453.1 241C1456.9 242.4 1460.7 241.9 1465.7 243.6C1470.7 245.2 1478.4 248.6 1483.2 251.1C1488 253.5 1490.5 256.4 1494.5 258.1C1498.5 259.9 1502.8 259.7 1507 261.3C1511.2 263 1515.4 265.6 1519.6 268.2C1523.8 270.9 1527.9 273.5 1532.1 276.9C1536.3 280.4 1540.5 284.4 1544.7 288.8C1548.9 293.2 1553.5 298.4 1557.2 303.3C1561 308.3 1564.6 313.6 1567.2 318.3C1569.8 323.1 1571 326.9 1572.9 331.6C1574.8 336.4 1576.3 340.1 1578.5 346.8C1580.7 353.4 1583.7 363.4 1586 371.8C1588.3 380.1 1590.5 388.5 1592.3 396.8C1594.1 405.2 1595.2 413.6 1596.7 421.9C1598.2 430.3 1599.7 438.6 1601 446.9C1602.3 455.3 1603.6 463.7 1604.8 472C1606 480.4 1607.1 490.4 1607.9 497C1608.7 503.6 1609.1 505.7 1609.8 511.6C1610.5 517.6 1611.6 524.2 1612.3 532.9C1613 541.7 1613.6 553.9 1614.2 564.4C1614.8 574.8 1615.6 585.2 1616.1 595.6C1616.6 606.1 1616.8 616.5 1617.3 626.9C1617.8 637.4 1618.7 647.5 1619.2 658.2C1619.7 669 1620.1 683.6 1620.5 691.6C1620.9 699.7 1621.2 700.1 1621.7 706.8C1622.2 713.4 1622.9 724.6 1623.6 731.8C1624.3 738.9 1625.2 745.2 1626 749.6C1626.8 754.1 1627.6 758.4 1628.6 758.4C1629.6 758.4 1630.8 752.5 1632 749.6C1633.2 746.8 1634.5 741.1 1636.1 741.1C1637.7 741.5 1640.5 747.1 1641.8 751.9C1643.1 756.6 1643.2 762.2 1643.7 769.4C1644.2 776.5 1644.5 786.1 1644.9 794.4C1645.3 802.8 1645.8 811.1 1646.2 819.4C1646.6 827.8 1647 835.8 1647.4 844.5C1647.8 853.2 1648.3 862.5 1648.7 871.6C1649.1 880.8 1649.5 888.4 1649.9 899.2C1650.3 910.1 1650.8 924.3 1651.2 936.9C1651.6 949.4 1652 961.9 1652.4 974.4C1652.8 987 1653 999.2 1653.4 1012C1653.8 1024.9 1654.3 1040.5 1654.7 1051.7C1655.1 1062.9 1655.2 1068.4 1655.6 1079.2C1655.9 1090.1 1656.3 1104.3 1656.8 1116.9C1657.3 1129.4 1658.1 1141.9 1658.7 1154.5C1659.3 1167 1660 1181.8 1660.6 1192.1C1661.2 1202.4 1662 1216.2 1662.5 1216.2C1663 1216.2 1663.5 1202.4 1663.8 1191.7C1664.1 1180.9 1664.2 1165 1664.5 1151.7C1664.8 1138.3 1665.2 1122.5 1665.6 1111.7C1666 1100.8 1666.2 1094.4 1666.8 1086.7C1667.4 1078.9 1668.2 1065.1 1669 1065.1C1669.8 1065.1 1671 1079.7 1671.8 1086.7C1672.6 1093.6 1673.5 1101.6 1674 1106.7C1674.5 1111.8 1674.7 1117.2 1675 1117.2C1675.3 1116.9 1675.5 1110.7 1675.7 1104.4C1675.9 1098 1676 1088 1676.2 1079.2C1676.5 1070.5 1676.9 1062.9 1677.2 1051.7C1677.5 1040.5 1677.8 1024.9 1678.1 1012C1678.4 999.2 1678.7 987 1679 974.4C1679.3 961.9 1679.4 949.4 1679.7 936.9C1680 924.3 1680.3 910.1 1680.6 899.2C1680.8 888.4 1681 881.8 1681.2 871.6C1681.4 861.5 1681.6 849 1681.9 838.2C1682.2 827.5 1682.8 817.4 1683.1 806.9C1683.4 796.5 1683.6 786.1 1683.8 775.6C1684 765.2 1684.2 754.8 1684.4 744.4C1684.6 733.9 1684.7 723.4 1685 712.9C1685.3 702.5 1685.6 690.8 1686 681.6C1686.4 672.5 1687 667.4 1687.5 658.2C1688 649.1 1688.4 637.4 1688.8 626.9C1689.2 616.5 1689.6 606.1 1690 595.6C1690.4 585.2 1690.7 574.8 1691.3 564.4C1691.9 553.9 1693.2 543.4 1693.8 532.9C1694.4 522.5 1694.3 509.5 1695 501.6C1695.7 493.8 1696.8 489.6 1698 485.6C1699.2 481.7 1700.6 478 1701.9 478C1703.2 478 1704.6 481.7 1706 485.6C1707.4 489.6 1709 494 1710.3 501.6C1711.6 509.3 1712.8 521.2 1714 531.6C1715.2 542.1 1716.2 551 1717.2 564.4C1718.2 577.7 1719.1 611.9 1720.1 611.9C1721.1 611.9 1722 582.7 1723 564.4C1724 546 1725.1 519.1 1725.8 501.6C1726.5 484.2 1726.5 470.6 1727 459.4C1727.5 448.2 1728.1 442.8 1728.9 434.4C1729.7 426.1 1730.8 417.7 1732 409.3C1733.2 401 1734.1 393.7 1735.8 384.3C1737.5 374.9 1740.2 363.4 1742.1 352.9C1744 342.5 1745.6 331.8 1747.1 321.6C1748.5 311.5 1749.3 300.1 1750.8 292C1752.2 284 1753.9 277.8 1755.8 273.2C1757.7 268.8 1760 265 1762.1 265C1764.2 265 1766.8 268.8 1768.4 273.2C1770 277.8 1770.7 285.8 1771.5 292C1772.3 298.3 1772.7 305 1773.4 310.8C1774.1 316.7 1774.2 323 1775.9 327.1C1777.6 331.2 1781.1 334.7 1783.4 335.4C1785.7 335.4 1787.2 331.4 1789.7 331.4C1792.2 332 1796.1 338.3 1798.4 338.9C1800.7 338.9 1802 337.7 1803.5 335.4C1805 333.2 1806 328.7 1807.2 325.4C1808.4 322.2 1808.8 316 1810.5 316C1812.2 317.5 1815.5 326.9 1817.2 334.1C1819 341.3 1820 350.9 1821 359.2C1822 367.6 1822.6 375.5 1823.5 384.3C1824.4 393.2 1825.1 410.1 1826.6 412.1C1828.1 412.1 1830.8 402.5 1832.3 396.8C1833.8 391.2 1833.8 383.5 1835.4 378C1837 372.6 1839.3 365.6 1841.7 364.2C1844.1 364.2 1847.4 369 1849.8 369.8C1852.2 369.8 1854.2 369.2 1856.1 369.2C1858 370 1859.6 370.7 1861.1 374.2C1862.6 377.8 1863.7 383.6 1864.9 390.5C1866.2 397.4 1867.3 407.3 1868.6 415.6C1869.8 424 1871.2 432.3 1872.4 440.6C1873.7 449 1875 457.4 1876.1 465.8C1877.2 474.1 1878 483.2 1878.8 490.8C1879.6 498.5 1880.3 504.6 1881 511.6C1881.7 518.7 1882.1 524.2 1882.8 532.9C1883.5 541.7 1884.5 553.9 1885.3 564.4C1886.1 574.8 1886.9 585.2 1887.8 595.6C1888.7 606.1 1889.6 616.5 1890.4 626.9C1891.2 637.4 1892 647.5 1892.6 658.2C1893.2 669 1893.6 681.5 1894.1 691.6C1894.6 701.8 1895 708.4 1895.6 719.2C1896.1 730.1 1896.8 744.3 1897.4 756.9C1898 769.4 1898.7 783 1899.3 794.4C1899.9 805.9 1900.7 817.2 1901.2 825.8C1901.7 834.3 1902.1 844.5 1902.5 845.5C1902.9 845.5 1903.3 838.5 1903.7 832C1904.1 825.6 1904.6 815.3 1905 806.9C1905.4 798.6 1905.8 790.3 1906.2 781.9C1906.6 773.6 1907.1 765.2 1907.5 756.9C1907.9 748.5 1908.4 740.1 1908.7 731.8C1909 723.4 1909.2 713.8 1909.5 706.8C1909.8 699.7 1910.2 696.3 1910.6 689.6C1911 683 1911.4 673.8 1911.8 666.6C1912.2 659.5 1912.5 653.3 1913 646.6C1913.5 640 1914.1 633.3 1914.6 626.6C1915.1 620 1915.7 611.8 1916 606.6C1916.3 601.5 1916.1 599.4 1916.3 595.6C1916.5 591.9 1916.7 587.4 1917 584.2C1917.3 581.1 1917.5 579.9 1917.9 576.6C1918.3 573.4 1918.8 567.8 1919.6 564.6C1920.4 561.5 1921.7 557.7 1922.6 557.6C1923.5 557.6 1924.5 560.6 1925.1 564.2C1925.7 567.9 1925.9 574.7 1926.2 579.2C1926.5 583.8 1926.8 587.1 1927 591.6C1927.2 596.2 1927.1 600.8 1927.3 606.6C1927.5 612.5 1927.8 619.4 1928 626.9C1928.2 634.5 1928.6 641.6 1928.8 652C1929 662.5 1929 676.4 1929.4 689.6C1929.8 702.9 1930.7 716.4 1931.3 731.8C1931.9 747.1 1932.7 765.2 1933.2 781.9C1933.7 798.7 1934 815 1934.4 832C1934.8 849.1 1935.3 884.2 1935.7 884.2C1936.1 884.2 1936.5 849.1 1936.9 832C1937.3 815 1937.7 798.7 1938.2 781.9C1938.7 765.2 1939.5 748.4 1940 731.6C1940.5 714.9 1940.8 693.9 1941.3 681.6C1941.8 669.4 1942.6 665.5 1943.2 658.2C1943.8 651 1944.8 641.2 1945.1 637.9"/>
<path stroke-width="10.3" d="M221.5 171.2C226.2 171.6 241 172.8 250 173.5C259 174.2 267.4 174.8 275.7 175.7C284 176.5 293.4 177.9 300 178.6C306.6 179.2 310.8 179 315 179.6C319.2 180.2 321.9 181.1 325 182.1C328.1 183.1 331.1 183.9 333.8 185.3C336.5 186.7 339.1 188.2 341.4 190.3C343.7 192.4 345.7 194.9 347.6 197.8C349.5 200.7 351.2 204 352.6 207.8C354 211.6 355.1 215.6 355.8 220.4C356.5 225.2 356.4 230.8 357 236.6C357.6 242.4 358.9 249.8 359.5 255.4C360.1 261 360.5 264 360.8 270C361.1 276 361 282.5 361.4 291.3C361.8 300.1 362.7 311.2 363.3 322.7C363.9 334.2 364.7 349.9 365.2 360.3C365.7 370.7 365.9 375.9 366.4 385.3C366.9 394.7 367.5 416.5 368.3 416.5C369.1 416.5 370.5 395.7 371.4 385.3C372.3 374.9 372.9 364.2 373.9 354C374.8 343.8 376 326.7 377.1 323.8C378.2 323.8 379.5 331.6 380.8 336.4C382.1 341.2 383.8 347.9 385.2 352.7C386.6 357.5 387.6 362.6 389 365.3C390.4 368 391.9 368 393.4 368.8C394.8 369.6 396.5 368.8 397.7 370.3C398.9 371.8 399.6 373.2 400.3 377.8C401 382.4 401.5 390.3 402.1 397.8C402.7 405.3 403.5 415.4 404 422.9C404.5 430.4 404.7 442.8 405.3 442.8C405.9 442.8 407.1 430.4 407.8 422.9C408.5 415.4 409.1 406.1 409.6 397.8C410.1 389.5 410.5 379.3 410.9 372.8C411.3 366.3 411.3 362.8 412.2 359C413.1 355.2 415.1 353.1 416.5 350.2C417.9 347.3 418.8 344.1 420.3 341.5C421.8 338.9 423.4 336.2 425.3 334.9C427.2 333.9 429.5 333.9 431.6 333.9C433.7 333.9 435.1 334.1 437.8 334.9C440.5 335.7 444.5 337 447.9 338.9C451.2 340.8 454.3 343.6 457.9 346.5C461.4 349.4 465.2 352.8 469.2 356.5C473.2 360.2 477.5 365.7 481.7 369C485.9 372.3 490.2 375.9 494.2 376.5C498.2 376.5 501.9 374.9 505.5 372.8C509.1 370.7 512.1 367.8 515.5 364C518.9 360.2 522.2 355.8 525.6 350.2C529 344.6 531.5 338.7 535.6 330.2C539.7 321.7 544.6 307.7 550 299C555.4 290.3 560.6 284.2 567.7 278.2C574.8 272.2 585.2 268.6 592.7 263.2C600.2 257.8 605.3 251.9 612.8 245.6C620.3 239.3 629.4 231.4 637.8 225.6C646.1 219.8 654.5 214.9 662.9 210.5C671.3 206.1 680.9 201.9 688 199.2C695.1 196.5 700.5 195 705.5 194.2C710.5 194.2 714.6 194.2 718 194.2C721.4 194.8 723.1 197.7 725.6 198C728.1 198 730.3 196 733 196C735.7 196.8 739 202.5 741.9 202.5C744.8 202 747.5 195.8 750.6 193C753.7 190.2 756.5 186.4 760.7 185.5C764.9 185.5 771.1 187.5 775.7 187.5C780.3 186 781.9 179 788.2 176.7C794.5 174.3 802.8 174.2 813.3 173.4C823.8 172.6 836.3 172.2 850.9 171.7C865.5 171.2 884.3 170.4 901 170.4C917.7 170.4 934.6 171.3 951.1 171.7C967.6 172.1 979.3 171.7 1000 172.9C1020.7 174.2 1050.1 176.8 1075.2 179.2C1100.3 181.6 1125.3 184.4 1150.4 187.5C1175.5 190.6 1206.8 195.6 1225.6 198C1244.4 200.4 1254.8 200.8 1263.2 201.8C1271.6 202.9 1268.6 203.5 1275.7 204.3C1282.8 205.1 1298.3 205.1 1305.8 206.8C1313.3 208.5 1315.4 211.2 1320.8 214.3C1326.2 217.4 1333.3 221.2 1338.3 225.6C1343.3 230 1347.1 234.8 1350.9 240.6C1354.7 246.4 1358 255.4 1360.9 260.7C1363.8 266 1365.9 272.2 1368.4 272.2C1370.9 272.2 1373.4 265.6 1375.9 260.7C1378.4 255.8 1380.6 247.9 1383.5 243.1C1386.4 238.3 1389.8 234.3 1393.5 231.8C1397.2 229.3 1399.7 228.4 1406 228C1412.3 228 1425.2 228.5 1431.1 229.3C1436.9 230.1 1437.8 231.3 1441.1 233C1444.4 234.7 1447.3 237.8 1451.1 239.3C1454.9 240.8 1458.7 240.2 1463.7 241.9C1468.7 243.6 1476.4 247 1481.2 249.4C1486 251.8 1488.5 254.8 1492.5 256.5C1496.5 258.2 1500.8 258 1505 259.7C1509.2 261.4 1513.4 264 1517.6 266.6C1521.8 269.2 1525.9 271.9 1530.1 275.3C1534.3 278.7 1538.5 282.8 1542.7 287.2C1546.9 291.6 1551.5 296.8 1555.2 301.7C1559 306.6 1562.6 312 1565.2 316.7C1567.8 321.4 1569 325.3 1570.9 330C1572.8 334.7 1574.3 338.4 1576.5 345.1C1578.7 351.8 1581.7 361.8 1584 370.1C1586.3 378.5 1588.5 386.8 1590.3 395.2C1592.1 403.6 1593.2 411.9 1594.7 420.3C1596.2 428.7 1597.7 437 1599 445.3C1600.3 453.6 1601.6 462 1602.8 470.4C1604 478.8 1605.1 488.8 1605.9 495.4C1606.7 502 1607.1 504 1607.8 510C1608.5 516 1609.6 522.5 1610.3 531.3C1611 540.1 1611.6 552.2 1612.2 562.7C1612.8 573.2 1613.6 583.6 1614.1 594C1614.6 604.4 1614.8 614.9 1615.3 625.3C1615.8 635.7 1616.7 645.8 1617.2 656.6C1617.7 667.4 1618.1 681.9 1618.5 690C1618.9 698.1 1619.2 698.4 1619.7 705.1C1620.2 711.8 1620.9 723 1621.6 730.1C1622.3 737.2 1623.2 743.6 1624 748C1624.8 752.4 1625.6 756.7 1626.6 756.7C1627.6 756.7 1628.8 750.9 1630 748C1631.2 745.1 1632.5 739.5 1634.1 739.5C1635.7 739.9 1638.5 745.5 1639.8 750.2C1641.1 754.9 1641.2 760.6 1641.7 767.7C1642.2 774.8 1642.5 784.4 1642.9 792.8C1643.3 801.1 1643.8 809.4 1644.2 817.8C1644.6 826.1 1645 834.2 1645.4 842.9C1645.8 851.6 1646.3 860.9 1646.7 870C1647.1 879.1 1647.5 886.7 1647.9 897.6C1648.3 908.5 1648.8 922.7 1649.2 935.2C1649.6 947.7 1650 960.3 1650.4 972.8C1650.8 985.3 1651 997.5 1651.4 1010.4C1651.8 1023.3 1652.3 1038.8 1652.7 1050C1653.1 1061.2 1653.2 1066.7 1653.6 1077.6C1653.9 1088.5 1654.3 1102.7 1654.8 1115.2C1655.3 1127.7 1656.1 1140.3 1656.7 1152.8C1657.3 1165.3 1658 1180.1 1658.6 1190.4C1659.2 1200.7 1660 1214.6 1660.5 1214.6C1661 1214.5 1661.5 1200.8 1661.8 1190C1662.1 1179.2 1662.2 1163.3 1662.5 1150C1662.8 1136.7 1663.2 1120.8 1663.6 1110C1664 1099.2 1664.2 1092.8 1664.8 1085C1665.4 1077.2 1666.2 1063.4 1667 1063.4C1667.8 1063.4 1669 1078.1 1669.8 1085C1670.6 1091.9 1671.5 1099.9 1672 1105C1672.5 1110.1 1672.7 1115.6 1673 1115.6C1673.3 1115.2 1673.5 1109 1673.7 1102.7C1673.9 1096.4 1674 1086.4 1674.2 1077.6C1674.5 1068.8 1674.9 1061.2 1675.2 1050C1675.5 1038.8 1675.8 1023.3 1676.1 1010.4C1676.4 997.5 1676.7 985.3 1677 972.8C1677.3 960.3 1677.4 947.7 1677.7 935.2C1678 922.7 1678.3 908.5 1678.6 897.6C1678.8 886.7 1679 880.2 1679.2 870C1679.4 859.8 1679.6 847.4 1679.9 836.6C1680.2 825.8 1680.8 815.7 1681.1 805.3C1681.4 794.9 1681.6 784.4 1681.8 774C1682 763.6 1682.2 753.2 1682.4 742.7C1682.6 732.2 1682.7 721.8 1683 711.3C1683.3 700.8 1683.6 689.1 1684 680C1684.4 670.9 1685 665.7 1685.5 656.6C1686 647.5 1686.4 635.7 1686.8 625.3C1687.2 614.9 1687.6 604.4 1688 594C1688.4 583.6 1688.7 573.2 1689.3 562.7C1689.9 552.2 1691.2 541.8 1691.8 531.3C1692.4 520.8 1692.3 507.9 1693 500C1693.7 492.1 1694.8 487.9 1696 484C1697.2 480.1 1698.6 476.4 1699.9 476.4C1701.2 476.4 1702.6 480.1 1704 484C1705.4 487.9 1707 492.3 1708.3 500C1709.6 507.7 1710.8 519.5 1712 530C1713.2 540.5 1714.2 549.3 1715.2 562.7C1716.2 576.1 1717.1 610.3 1718.1 610.3C1719.1 610.3 1720 581.1 1721 562.7C1722 544.3 1723.1 517.5 1723.8 500C1724.5 482.5 1724.5 469 1725 457.8C1725.5 446.6 1726.1 441.2 1726.9 432.8C1727.7 424.4 1728.8 416.1 1730 407.7C1731.2 399.3 1732.1 392.1 1733.8 382.7C1735.5 373.3 1738.2 361.8 1740.1 351.3C1742 340.9 1743.6 330.1 1745.1 320C1746.5 309.9 1747.3 298.5 1748.8 290.4C1750.2 282.3 1751.9 276.1 1753.8 271.6C1755.7 267.1 1758 263.4 1760.1 263.4C1762.2 263.4 1764.8 267.1 1766.4 271.6C1768 276.1 1768.7 284.1 1769.5 290.4C1770.3 296.7 1770.7 303.3 1771.4 309.2C1772.1 315.1 1772.2 321.4 1773.9 325.5C1775.6 329.6 1779.1 333.1 1781.4 333.8C1783.7 333.8 1785.2 329.8 1787.7 329.8C1790.2 330.4 1794.1 336.6 1796.4 337.3C1798.7 337.3 1800 336.1 1801.5 333.8C1803 331.6 1804 327 1805.2 323.8C1806.4 320.6 1806.8 314.4 1808.5 314.4C1810.2 315.8 1813.5 325.3 1815.2 332.5C1817 339.7 1818 349.2 1819 357.6C1820 366 1820.6 373.9 1821.5 382.7C1822.4 391.5 1823.1 408.4 1824.6 410.5C1826.1 410.5 1828.8 400.9 1830.3 395.2C1831.8 389.5 1831.8 381.8 1833.4 376.4C1835 371 1837.3 364 1839.7 362.6C1842.1 362.6 1845.4 367.4 1847.8 368.2C1850.2 368.2 1852.2 367.6 1854.1 367.6C1856 368.3 1857.6 369.1 1859.1 372.6C1860.6 376.2 1861.7 382 1862.9 388.9C1864.2 395.8 1865.3 405.6 1866.6 414C1867.8 422.4 1869.2 430.6 1870.4 439C1871.7 447.4 1873 455.7 1874.1 464.1C1875.2 472.5 1876 481.6 1876.8 489.2C1877.6 496.8 1878.3 503 1879 510C1879.7 517 1880.1 522.5 1880.8 531.3C1881.5 540.1 1882.5 552.2 1883.3 562.7C1884.1 573.2 1884.9 583.6 1885.8 594C1886.7 604.4 1887.6 614.9 1888.4 625.3C1889.2 635.7 1890 645.8 1890.6 656.6C1891.2 667.4 1891.6 679.8 1892.1 690C1892.6 700.2 1893 706.7 1893.6 717.6C1894.1 728.5 1894.8 742.7 1895.4 755.2C1896 767.7 1896.7 781.3 1897.3 792.8C1897.9 804.3 1898.7 815.6 1899.2 824.1C1899.7 832.6 1900.1 842.9 1900.5 843.9C1900.9 843.9 1901.3 836.8 1901.7 830.4C1902.1 824 1902.6 813.6 1903 805.3C1903.4 796.9 1903.8 788.6 1904.2 780.3C1904.6 771.9 1905.1 763.6 1905.5 755.2C1905.9 746.8 1906.4 738.5 1906.7 730.1C1907 721.8 1907.2 712.1 1907.5 705.1C1907.8 698.1 1908.2 694.7 1908.6 688C1909 681.3 1909.4 672.2 1909.8 665C1910.2 657.8 1910.5 651.7 1911 645C1911.5 638.3 1912.1 631.7 1912.6 625C1913.1 618.3 1913.7 610.2 1914 605C1914.3 599.8 1914.1 597.7 1914.3 594C1914.5 590.3 1914.7 585.8 1915 582.6C1915.3 579.4 1915.5 578.3 1915.9 575C1916.3 571.7 1916.8 566.2 1917.6 563C1918.4 559.8 1919.7 556.1 1920.6 556C1921.5 556 1922.5 559 1923.1 562.6C1923.7 566.2 1923.9 573 1924.2 577.6C1924.5 582.2 1924.8 585.4 1925 590C1925.2 594.6 1925.1 599.1 1925.3 605C1925.5 610.9 1925.8 617.7 1926 625.3C1926.2 632.9 1926.6 639.9 1926.8 650.4C1927 660.9 1927 674.7 1927.4 688C1927.8 701.3 1928.7 714.7 1929.3 730.1C1929.9 745.5 1930.7 763.6 1931.2 780.3C1931.7 797 1932 813.3 1932.4 830.4C1932.8 847.5 1933.3 882.6 1933.7 882.6C1934.1 882.6 1934.5 847.5 1934.9 830.4C1935.3 813.3 1935.7 797 1936.2 780.3C1936.7 763.6 1937.5 746.7 1938 730C1938.5 713.3 1938.8 692.2 1939.3 680C1939.8 667.8 1940.6 663.9 1941.2 656.6C1941.8 649.3 1942.8 639.6 1943.1 636.2"/>
</g>
<g stroke="#000080">
<path d="M219.5 115.6C224.2 115.7 239 116 248 116.1C257 116.3 265.4 116.4 273.7 116.6C282 116.9 289.8 117 298 117.4C306.2 117.8 316.1 118.2 323 119C329.9 119.8 335 120.9 339.4 122.2C343.8 123.6 346.9 125.2 349.4 127.2C351.9 129.3 352.9 130.8 354.4 134.8C355.9 138.7 357.1 144.8 358.2 151C359.2 157.3 360 165.7 360.7 172.3C361.4 179 361.7 185.5 362.5 191.2C363.3 196.8 364.4 206.2 365.7 206.2C366.9 205.7 368.6 193.7 370 188.3C371.4 183 372.8 175 374.4 174.2C376 174.2 377.6 180.3 379.5 183.7C381.4 187 383.8 191.1 385.7 194.2C387.6 197.4 389 200.4 390.7 202.3C392.4 204.3 394.4 203.8 395.7 206.2C397 208.5 397.4 212.4 398.3 216.2C399.2 219.9 399.9 224.8 400.8 228.8C401.7 232.7 402.9 240 403.9 240C404.9 239 406 227.3 406.9 222.4C407.8 217.6 408 213.8 409.5 211.2C411 208.6 413.5 207.6 415.8 206.8C418.1 206.4 421 206.4 423.3 206.4C425.6 206.5 426.5 206.4 429.6 207.2C432.7 208.2 437.9 210.3 442.1 212.4C446.3 214.6 450.4 217.2 454.6 219.9C458.8 222.7 463 225.9 467.2 228.8C471.4 231.6 475.5 234.6 479.7 236.8C483.9 239.1 488 242 492.2 242.5C496.4 242.5 500.6 241.5 504.8 240C509 238.6 513.1 236.9 517.3 233.8C521.5 230.6 525.6 225.6 529.8 221.2C534 216.9 539.4 210.8 542.4 207.4C545.4 204.1 544.1 204.7 548 201.3C551.9 198 558.6 192.1 565.7 187.5C572.8 182.9 581.9 179.2 590.7 173.8C599.5 168.3 608.7 160.4 618.3 154.9C627.9 149.5 638.4 145.2 648.4 141.2C658.4 137.3 669.3 133.7 678.5 131.2C687.7 128.6 697.2 127 703.5 126.1C709.8 126.1 712.6 126.1 716 126.1C719.4 126.6 721.1 128.3 723.6 128.7C726.1 128.7 728.3 128.2 731 128.2C733.7 128.5 737 130.7 739.9 130.7C742.8 129.9 745.5 125.4 748.6 123.6C751.7 121.9 754.5 120.2 758.7 119.9C762.9 119.9 769.1 122.3 773.7 122.3C778.3 121.7 777.9 117.8 786.2 116.1C794.6 114.5 811.3 113.2 823.8 112.3C836.3 111.5 848.9 111.5 861.4 111.1C873.9 110.8 884.4 110.5 899 110.3C913.6 110.3 932.5 110.3 949 110.3C965.5 110.5 977.3 110.5 998 111.1C1018.7 111.8 1048.1 113 1073.2 114.1C1098.3 115.3 1123.3 116.6 1148.4 118.1C1173.5 119.7 1203.5 122.3 1223.6 123.6C1243.6 125 1255.3 125 1268.7 126.1C1282.1 127.3 1294.6 128.1 1303.8 130.7C1313 133.2 1317.5 137.4 1323.8 141.2C1330.1 145.1 1336.4 148.8 1341.4 153.8C1346.4 158.8 1349.7 166.1 1353.9 171.2C1358.1 176.4 1362.2 184.5 1366.4 184.5C1370.6 184.1 1375.2 172.6 1379 168.8C1382.8 164.9 1384 163.3 1389 161.2C1394 159.2 1402.3 157.3 1409 156.2C1415.7 155.2 1424.1 154.9 1429.1 154.9C1434.1 155 1435.7 155.1 1439 156.3C1442.3 157.6 1443.2 160.1 1449.1 162.5C1455 165 1468.1 168.9 1474.2 171.2C1480.3 173.6 1481.7 175.5 1485.5 176.5C1489.3 177.4 1492.8 176.7 1496.8 177.4C1500.8 178.2 1505.1 179.2 1509.3 180.9C1513.5 182.7 1517.7 185.1 1521.9 187.8C1526.1 190.6 1530.2 193.6 1534.4 197.2C1538.6 200.9 1542.9 205.2 1546.9 209.8C1550.9 214.3 1554.7 219.8 1558.2 224.8C1561.8 229.9 1565.3 234.6 1568.2 239.8C1571.1 245.1 1573.4 250.5 1575.7 256.2C1578 261.8 1580.1 268.2 1582 273.7C1583.9 279.1 1585.5 283.7 1587 288.8C1588.5 293.8 1589.3 298.7 1590.8 303.8C1592.3 308.8 1594.4 314.8 1595.8 318.9C1597.2 323 1597.7 324.2 1598.9 328.4C1600.2 332.5 1601.8 336.8 1603.3 343.5C1604.8 350.1 1606.5 360.1 1607.7 368.5C1609 376.8 1609.9 385.2 1610.8 393.6C1611.7 401.9 1612.6 410.3 1613.3 418.7C1614 427 1614.6 435.3 1615.2 443.7C1615.8 452 1616.3 460.4 1617.1 468.8C1617.9 477.1 1618.6 487.2 1620.2 493.8C1621.8 500.3 1624.3 505.6 1626.5 507.9C1628.7 507.9 1631.5 507.2 1633.4 507.2C1635.3 508.3 1636.7 510.9 1637.8 514.6C1638.9 518.4 1639.5 524 1640.3 529.6C1641.1 535.3 1642.1 541.1 1642.8 548.5C1643.5 555.8 1644.1 565.2 1644.7 573.6C1645.3 581.9 1645.9 590.3 1646.5 598.6C1647.1 607 1647.8 615.3 1648.4 623.6C1649 632 1649.8 640.4 1650.3 648.8C1650.8 657.1 1651.2 667.1 1651.6 673.8C1652 680.4 1652.2 682.4 1652.8 688.4C1653.4 694.3 1654.5 701.9 1655.3 709.6C1656.1 717.4 1656.9 729.4 1657.4 734.8C1657.9 740.1 1658 742.1 1658.5 742.1C1659 741 1659.8 734.9 1660.3 728.5C1660.8 722 1661.1 711.8 1661.6 703.5C1662.1 695.1 1662.8 683.4 1663.5 678.4C1664.2 673.4 1664.3 673.4 1665.5 673.4C1666.7 673.8 1669.4 680.9 1670.5 680.9C1671.6 679.9 1671.7 672.9 1672.2 667.6C1672.7 662.2 1673.1 656.1 1673.5 648.8C1673.9 641.4 1674.3 633 1674.7 623.6C1675.1 614.2 1675.6 602.8 1676 592.4C1676.4 581.9 1676.8 571.5 1677.2 561.1C1677.6 550.6 1678.1 540.1 1678.5 529.6C1678.9 519.2 1679.4 506.4 1679.8 498.4C1680.2 490.3 1680.6 488.3 1681 481.2C1681.4 474.2 1681.8 464.5 1682.3 456.2C1682.8 447.8 1683.4 440.5 1684.1 431.2C1684.8 421.8 1685.8 410.3 1686.6 399.9C1687.4 389.4 1688.2 377.9 1689.2 368.5C1690.2 359.1 1691.2 350.6 1692.3 343.5C1693.4 336.4 1695 330.8 1696 325.9C1697 320.9 1696.7 316.6 1698.6 313.8C1700.5 310.9 1705.1 308.8 1707.3 308.8C1709.5 309.9 1710.2 315.4 1711.5 320.4C1712.8 325.3 1713.9 338.7 1715 338.7C1716.1 338.7 1717.1 326.6 1718 320.4C1718.9 314.1 1719.7 310.7 1720.5 301.2C1721.3 291.8 1721.8 274.1 1723 263.7C1724.2 253.2 1726.1 246.2 1728 238.7C1729.9 231.1 1732.4 225.4 1734.3 218.5C1736.2 211.6 1737.6 203.7 1739.3 197.2C1741 190.8 1742.4 184.8 1744.3 179.8C1746.2 174.7 1748.5 169.8 1750.6 167.2C1752.7 164.5 1754.5 163.7 1756.8 163.7C1759.1 164.3 1762.6 167.2 1764.4 170.9C1766.2 174.7 1766.6 180.9 1767.5 185.9C1768.4 191 1769.1 196.7 1770 201C1770.9 205.4 1771.3 209.8 1773.1 212.2C1774.9 214.7 1777.8 215.4 1780.7 215.4C1783.6 215 1787.8 211.9 1790.7 209.8C1793.6 207.6 1796.1 204.6 1798.2 202.2C1800.3 199.9 1801.1 197.2 1803.2 195.9C1805.3 194.8 1808.6 194.8 1810.7 194.8C1812.8 195.6 1814.4 197.9 1815.7 201C1817 204.2 1817.2 209.1 1818.3 213.5C1819.3 218 1820.3 227.5 1822 227.9C1823.7 227.9 1826.6 219.5 1828.3 216C1830 212.6 1830.5 209.3 1832 207.2C1833.5 205.2 1834.5 203.8 1837 203.8C1839.5 204.6 1844.3 210.8 1847 211.7C1849.7 211.7 1851.4 208.8 1853.3 208.8C1855.2 209.1 1856.9 210.2 1858.4 213.5C1859.9 216.8 1860.8 223.3 1862.1 228.5C1863.3 233.8 1864.4 239.4 1865.9 244.8C1867.4 250.3 1869.5 255.9 1870.9 261.2C1872.4 266.4 1873.3 270.9 1874.6 276.2C1875.8 281.4 1877.1 286.6 1878.4 292.5C1879.7 298.3 1881.2 305.3 1882.2 311.2C1883.2 317.2 1883.9 323 1884.7 328.4C1885.5 333.7 1886.2 335.6 1887.2 343.4C1888.2 351.1 1889.9 364.3 1890.9 374.8C1891.9 385.2 1892.6 395.6 1893.4 406.1C1894.2 416.5 1894.9 427.9 1895.9 437.4C1896.9 446.8 1898.2 462.9 1899.5 462.9C1900.8 461.8 1902.2 442.7 1903.5 431.2C1904.8 419.6 1906 405 1907.2 393.6C1908.5 382.1 1909.3 369.9 1911 362.2C1912.7 354.6 1915.1 347.5 1917.2 347.5C1919.3 348.1 1922 358.3 1923.5 366C1925 373.6 1925.2 382.7 1926 393.6C1926.8 404.4 1927.8 418.6 1928.3 431.2C1928.8 443.7 1928.8 455.9 1928.9 468.8C1929.1 481.6 1929.1 498.4 1929.2 508.4C1929.3 518.3 1929.2 523.1 1929.5 528.4C1929.9 533.6 1930.8 540.1 1931.5 540.1C1932.2 540.1 1933.3 533.6 1933.8 528.4C1934.3 523.1 1934.2 516.2 1934.6 508.4C1935 500.5 1935.3 492 1936 481.2C1936.7 470.5 1937.8 454.6 1938.6 443.7C1939.4 432.7 1940.7 420.2 1941.1 415.5"/>
<path d="M223.5 115.6C228.2 115.7 243 116 252 116.1C261 116.3 269.4 116.4 277.7 116.6C286 116.9 293.8 117 302 117.4C310.2 117.8 320.1 118.2 327 119C333.9 119.8 339 120.9 343.4 122.2C347.8 123.6 350.9 125.2 353.4 127.2C355.9 129.3 356.9 130.8 358.4 134.8C359.9 138.7 361.1 144.8 362.2 151C363.2 157.3 364 165.7 364.7 172.3C365.4 179 365.7 185.5 366.5 191.2C367.3 196.8 368.4 206.2 369.7 206.2C370.9 205.7 372.6 193.7 374 188.3C375.4 183 376.8 175 378.4 174.2C380 174.2 381.6 180.3 383.5 183.7C385.4 187 387.8 191.1 389.7 194.2C391.6 197.4 393 200.4 394.7 202.3C396.4 204.3 398.4 203.8 399.7 206.2C401 208.5 401.4 212.4 402.3 216.2C403.2 219.9 403.9 224.8 404.8 228.8C405.7 232.7 406.9 240 407.9 240C408.9 239 410 227.3 410.9 222.4C411.8 217.6 412 213.8 413.5 211.2C415 208.6 417.5 207.6 419.8 206.8C422.1 206.4 425 206.4 427.3 206.4C429.6 206.5 430.5 206.4 433.6 207.2C436.7 208.2 441.9 210.3 446.1 212.4C450.3 214.6 454.4 217.2 458.6 219.9C462.8 222.7 467 225.9 471.2 228.8C475.4 231.6 479.5 234.6 483.7 236.8C487.9 239.1 492 242 496.2 242.5C500.4 242.5 504.6 241.5 508.8 240C513 238.6 517.1 236.9 521.3 233.8C525.5 230.6 529.6 225.6 533.8 221.2C538 216.9 543.4 210.8 546.4 207.4C549.4 204.1 548.1 204.7 552 201.3C555.9 198 562.6 192.1 569.7 187.5C576.8 182.9 585.9 179.2 594.7 173.8C603.5 168.3 612.7 160.4 622.3 154.9C631.9 149.5 642.4 145.2 652.4 141.2C662.4 137.3 673.3 133.7 682.5 131.2C691.7 128.6 701.2 127 707.5 126.1C713.8 126.1 716.6 126.1 720 126.1C723.4 126.6 725.1 128.3 727.6 128.7C730.1 128.7 732.3 128.2 735 128.2C737.7 128.5 741 130.7 743.9 130.7C746.8 129.9 749.5 125.4 752.6 123.6C755.7 121.9 758.5 120.2 762.7 119.9C766.9 119.9 773.1 122.3 777.7 122.3C782.3 121.7 781.9 117.8 790.2 116.1C798.6 114.5 815.3 113.2 827.8 112.3C840.3 111.5 852.9 111.5 865.4 111.1C877.9 110.8 888.4 110.5 903 110.3C917.6 110.3 936.5 110.3 953 110.3C969.5 110.5 981.3 110.5 1002 111.1C1022.7 111.8 1052.1 113 1077.2 114.1C1102.3 115.3 1127.3 116.6 1152.4 118.1C1177.5 119.7 1207.5 122.3 1227.6 123.6C1247.6 125 1259.3 125 1272.7 126.1C1286.1 127.3 1298.6 128.1 1307.8 130.7C1317 133.2 1321.5 137.4 1327.8 141.2C1334.1 145.1 1340.4 148.8 1345.4 153.8C1350.4 158.8 1353.7 166.1 1357.9 171.2C1362.1 176.4 1366.2 184.5 1370.4 184.5C1374.6 184.1 1379.2 172.6 1383 168.8C1386.8 164.9 1388 163.3 1393 161.2C1398 159.2 1406.3 157.3 1413 156.2C1419.7 155.2 1428.1 154.9 1433.1 154.9C1438.1 155 1439.7 155.1 1443 156.3C1446.3 157.6 1447.2 160.1 1453.1 162.5C1459 165 1472.1 168.9 1478.2 171.2C1484.3 173.6 1485.7 175.5 1489.5 176.5C1493.3 177.4 1496.8 176.7 1500.8 177.4C1504.8 178.2 1509.1 179.2 1513.3 180.9C1517.5 182.7 1521.7 185.1 1525.9 187.8C1530.1 190.6 1534.2 193.6 1538.4 197.2C1542.6 200.9 1546.9 205.2 1550.9 209.8C1554.9 214.3 1558.7 219.8 1562.2 224.8C1565.8 229.9 1569.3 234.6 1572.2 239.8C1575.1 245.1 1577.4 250.5 1579.7 256.2C1582 261.8 1584.1 268.2 1586 273.7C1587.9 279.1 1589.5 283.7 1591 288.8C1592.5 293.8 1593.3 298.7 1594.8 303.8C1596.3 308.8 1598.4 314.8 1599.8 318.9C1601.2 323 1601.7 324.2 1602.9 328.4C1604.2 332.5 1605.8 336.8 1607.3 343.5C1608.8 350.1 1610.5 360.1 1611.7 368.5C1613 376.8 1613.9 385.2 1614.8 393.6C1615.7 401.9 1616.6 410.3 1617.3 418.7C1618 427 1618.6 435.3 1619.2 443.7C1619.8 452 1620.3 460.4 1621.1 468.8C1621.9 477.1 1622.6 487.2 1624.2 493.8C1625.8 500.3 1628.3 505.6 1630.5 507.9C1632.7 507.9 1635.5 507.2 1637.4 507.2C1639.3 508.3 1640.7 510.9 1641.8 514.6C1642.9 518.4 1643.5 524 1644.3 529.6C1645.1 535.3 1646.1 541.1 1646.8 548.5C1647.5 555.8 1648.1 565.2 1648.7 573.6C1649.3 581.9 1649.9 590.3 1650.5 598.6C1651.1 607 1651.8 615.3 1652.4 623.6C1653 632 1653.8 640.4 1654.3 648.8C1654.8 657.1 1655.2 667.1 1655.6 673.8C1656 680.4 1656.2 682.4 1656.8 688.4C1657.4 694.3 1658.5 701.9 1659.3 709.6C1660.1 717.4 1660.9 729.4 1661.4 734.8C1661.9 740.1 1662 742.1 1662.5 742.1C1663 741 1663.8 734.9 1664.3 728.5C1664.8 722 1665.1 711.8 1665.6 703.5C1666.1 695.1 1666.8 683.4 1667.5 678.4C1668.2 673.4 1668.3 673.4 1669.5 673.4C1670.7 673.8 1673.4 680.9 1674.5 680.9C1675.6 679.9 1675.7 672.9 1676.2 667.6C1676.7 662.2 1677.1 656.1 1677.5 648.8C1677.9 641.4 1678.3 633 1678.7 623.6C1679.1 614.2 1679.6 602.8 1680 592.4C1680.4 581.9 1680.8 571.5 1681.2 561.1C1681.6 550.6 1682.1 540.1 1682.5 529.6C1682.9 519.2 1683.4 506.4 1683.8 498.4C1684.2 490.3 1684.6 488.3 1685 481.2C1685.4 474.2 1685.8 464.5 1686.3 456.2C1686.8 447.8 1687.4 440.5 1688.1 431.2C1688.8 421.8 1689.8 410.3 1690.6 399.9C1691.4 389.4 1692.2 377.9 1693.2 368.5C1694.2 359.1 1695.2 350.6 1696.3 343.5C1697.4 336.4 1699 330.8 1700 325.9C1701 320.9 1700.7 316.6 1702.6 313.8C1704.5 310.9 1709.1 308.8 1711.3 308.8C1713.5 309.9 1714.2 315.4 1715.5 320.4C1716.8 325.3 1717.9 338.7 1719 338.7C1720.1 338.7 1721.1 326.6 1722 320.4C1722.9 314.1 1723.7 310.7 1724.5 301.2C1725.3 291.8 1725.8 274.1 1727 263.7C1728.2 253.2 1730.1 246.2 1732 238.7C1733.9 231.1 1736.4 225.4 1738.3 218.5C1740.2 211.6 1741.6 203.7 1743.3 197.2C1745 190.8 1746.4 184.8 1748.3 179.8C1750.2 174.7 1752.5 169.8 1754.6 167.2C1756.7 164.5 1758.5 163.7 1760.8 163.7C1763.1 164.3 1766.6 167.2 1768.4 170.9C1770.2 174.7 1770.6 180.9 1771.5 185.9C1772.4 191 1773.1 196.7 1774 201C1774.9 205.4 1775.3 209.8 1777.1 212.2C1778.9 214.7 1781.8 215.4 1784.7 215.4C1787.6 215 1791.8 211.9 1794.7 209.8C1797.6 207.6 1800.1 204.6 1802.2 202.2C1804.3 199.9 1805.1 197.2 1807.2 195.9C1809.3 194.8 1812.6 194.8 1814.7 194.8C1816.8 195.6 1818.4 197.9 1819.7 201C1821 204.2 1821.2 209.1 1822.3 213.5C1823.3 218 1824.3 227.5 1826 227.9C1827.7 227.9 1830.6 219.5 1832.3 216C1834 212.6 1834.5 209.3 1836 207.2C1837.5 205.2 1838.5 203.8 1841 203.8C1843.5 204.6 1848.3 210.8 1851 211.7C1853.7 211.7 1855.4 208.8 1857.3 208.8C1859.2 209.1 1860.9 210.2 1862.4 213.5C1863.9 216.8 1864.8 223.3 1866.1 228.5C1867.3 233.8 1868.4 239.4 1869.9 244.8C1871.4 250.3 1873.5 255.9 1874.9 261.2C1876.4 266.4 1877.3 270.9 1878.6 276.2C1879.8 281.4 1881.1 286.6 1882.4 292.5C1883.7 298.3 1885.2 305.3 1886.2 311.2C1887.2 317.2 1887.9 323 1888.7 328.4C1889.5 333.7 1890.2 335.6 1891.2 343.4C1892.2 351.1 1893.9 364.3 1894.9 374.8C1895.9 385.2 1896.6 395.6 1897.4 406.1C1898.2 416.5 1898.9 427.9 1899.9 437.4C1900.9 446.8 1902.2 462.9 1903.5 462.9C1904.8 461.8 1906.2 442.7 1907.5 431.2C1908.8 419.6 1910 405 1911.2 393.6C1912.5 382.1 1913.3 369.9 1915 362.2C1916.7 354.6 1919.1 347.5 1921.2 347.5C1923.3 348.1 1926 358.3 1927.5 366C1929 373.6 1929.2 382.7 1930 393.6C1930.8 404.4 1931.8 418.6 1932.3 431.2C1932.8 443.7 1932.8 455.9 1932.9 468.8C1933.1 481.6 1933.1 498.4 1933.2 508.4C1933.3 518.3 1933.2 523.1 1933.5 528.4C1933.9 533.6 1934.8 540.1 1935.5 540.1C1936.2 540.1 1937.3 533.6 1937.8 528.4C1938.3 523.1 1938.2 516.2 1938.6 508.4C1939 500.5 1939.3 492 1940 481.2C1940.7 470.5 1941.8 454.6 1942.6 443.7C1943.4 432.7 1944.7 420.2 1945.1 415.5"/>
<path d="M219.5 119C224.2 119 239 119.3 248 119.5C257 119.6 265.4 119.7 273.7 120C282 120.2 289.8 120.3 298 120.8C306.2 121.2 316.1 121.6 323 122.4C329.9 123.2 335 124.2 339.4 125.6C343.8 126.9 346.9 128.5 349.4 130.6C351.9 132.6 352.9 134.1 354.4 138.1C355.9 142 357.1 148.1 358.2 154.3C359.2 160.6 360 169 360.7 175.7C361.4 182.3 361.7 188.8 362.5 194.5C363.3 200.1 364.4 209.5 365.7 209.5C366.9 209 368.6 197 370 191.7C371.4 186.3 372.8 178.3 374.4 177.6C376 177.6 377.6 183.6 379.5 187C381.4 190.3 383.8 194.4 385.7 197.6C387.6 200.7 389 203.7 390.7 205.7C392.4 207.6 394.4 207.2 395.7 209.5C397 211.8 397.4 215.7 398.3 219.5C399.2 223.2 399.9 228.1 400.8 232.1C401.7 236 402.9 243.3 403.9 243.3C404.9 242.3 406 230.6 406.9 225.8C407.8 220.9 408 217.1 409.5 214.5C411 211.9 413.5 210.9 415.8 210.2C418.1 209.8 421 209.8 423.3 209.8C425.6 209.8 426.5 209.8 429.6 210.5C432.7 211.5 437.9 213.6 442.1 215.8C446.3 217.9 450.4 220.5 454.6 223.2C458.8 226 463 229.2 467.2 232.1C471.4 234.9 475.5 237.9 479.7 240.2C483.9 242.4 488 245.3 492.2 245.8C496.4 245.8 500.6 244.8 504.8 243.3C509 241.9 513.1 240.2 517.3 237.1C521.5 233.9 525.6 228.9 529.8 224.6C534 220.2 539.4 214.1 542.4 210.8C545.4 207.4 544.1 208 548 204.7C551.9 201.3 558.6 195.4 565.7 190.8C572.8 186.2 581.9 182.5 590.7 177.1C599.5 171.6 608.7 163.7 618.3 158.2C627.9 152.8 638.4 148.5 648.4 144.6C658.4 140.6 669.3 137 678.5 134.5C687.7 131.9 697.2 130.3 703.5 129.4C709.8 129.4 712.6 129.4 716 129.4C719.4 129.9 721.1 131.6 723.6 132C726.1 132 728.3 131.5 731 131.5C733.7 131.8 737 134 739.9 134C742.8 133.2 745.5 128.7 748.6 127C751.7 125.2 754.5 123.5 758.7 123.2C762.9 123.2 769.1 125.7 773.7 125.7C778.3 125 777.9 121.1 786.2 119.5C794.6 117.8 811.3 116.5 823.8 115.7C836.3 114.8 848.9 114.8 861.4 114.5C873.9 114.1 884.4 113.8 899 113.7C913.6 113.7 932.5 113.7 949 113.7C965.5 113.8 977.3 113.8 998 114.5C1018.7 115.1 1048.1 116.3 1073.2 117.5C1098.3 118.6 1123.3 119.9 1148.4 121.5C1173.5 123 1203.5 125.6 1223.6 127C1243.6 128.3 1255.3 128.3 1268.7 129.4C1282.1 130.6 1294.6 131.4 1303.8 134C1313 136.5 1317.5 140.7 1323.8 144.6C1330.1 148.4 1336.4 152.1 1341.4 157.1C1346.4 162.1 1349.7 169.4 1353.9 174.6C1358.1 179.7 1362.2 187.8 1366.4 187.8C1370.6 187.4 1375.2 175.9 1379 172.1C1382.8 168.2 1384 166.6 1389 164.6C1394 162.5 1402.3 160.6 1409 159.6C1415.7 158.5 1424.1 158.2 1429.1 158.2C1434.1 158.3 1435.7 158.4 1439 159.7C1442.3 160.9 1443.2 163.4 1449.1 165.8C1455 168.3 1468.1 172.2 1474.2 174.6C1480.3 176.9 1481.7 178.8 1485.5 179.8C1489.3 180.8 1492.8 180 1496.8 180.8C1500.8 181.5 1505.1 182.5 1509.3 184.2C1513.5 186 1517.7 188.4 1521.9 191.2C1526.1 193.9 1530.2 196.9 1534.4 200.6C1538.6 204.2 1542.9 208.5 1546.9 213.1C1550.9 217.7 1554.7 223.1 1558.2 228.2C1561.8 233.2 1565.3 237.9 1568.2 243.2C1571.1 248.4 1573.4 253.8 1575.7 259.4C1578 265.1 1580.1 271.5 1582 276.9C1583.9 282.4 1585.5 287 1587 292C1588.5 297.1 1589.3 302 1590.8 307C1592.3 312.1 1594.4 318 1595.8 322.1C1597.2 326.2 1597.7 327.5 1598.9 331.6C1600.2 335.8 1601.8 340.1 1603.3 346.8C1604.8 353.4 1606.5 363.4 1607.7 371.8C1609 380.1 1609.9 388.5 1610.8 396.8C1611.7 405.2 1612.6 413.6 1613.3 421.9C1614 430.3 1614.6 438.6 1615.2 446.9C1615.8 455.3 1616.3 463.7 1617.1 472C1617.9 480.4 1618.6 490.5 1620.2 497C1621.8 503.6 1624.3 508.9 1626.5 511.1C1628.7 511.1 1631.5 510.4 1633.4 510.4C1635.3 511.6 1636.7 514.2 1637.8 517.9C1638.9 521.7 1639.5 527.3 1640.3 532.9C1641.1 538.6 1642.1 544.4 1642.8 551.8C1643.5 559.1 1644.1 568.5 1644.7 576.9C1645.3 585.2 1645.9 593.6 1646.5 601.9C1647.1 610.3 1647.8 618.6 1648.4 626.9C1649 635.3 1649.8 643.7 1650.3 652C1650.8 660.4 1651.2 670.4 1651.6 677C1652 683.6 1652.2 685.7 1652.8 691.6C1653.4 697.6 1654.5 705.2 1655.3 712.9C1656.1 720.7 1656.9 732.6 1657.4 738C1657.9 743.4 1658 745.4 1658.5 745.4C1659 744.3 1659.8 738.2 1660.3 731.8C1660.8 725.3 1661.1 715.1 1661.6 706.8C1662.1 698.4 1662.8 686.7 1663.5 681.6C1664.2 676.6 1664.3 676.6 1665.5 676.6C1666.7 677.1 1669.4 684.1 1670.5 684.1C1671.6 683.2 1671.7 676.2 1672.2 670.9C1672.7 665.5 1673.1 659.4 1673.5 652C1673.9 644.7 1674.3 636.3 1674.7 626.9C1675.1 617.5 1675.6 606.1 1676 595.6C1676.4 585.2 1676.8 574.8 1677.2 564.4C1677.6 553.9 1678.1 543.4 1678.5 532.9C1678.9 522.5 1679.4 509.7 1679.8 501.6C1680.2 493.6 1680.6 491.6 1681 484.5C1681.4 477.5 1681.8 467.8 1682.3 459.4C1682.8 451.1 1683.4 443.8 1684.1 434.4C1684.8 425.1 1685.8 413.6 1686.6 403.1C1687.4 392.7 1688.2 381.1 1689.2 371.8C1690.2 362.4 1691.2 353.9 1692.3 346.8C1693.4 339.6 1695 334.1 1696 329.1C1697 324.2 1696.7 319.9 1698.6 317C1700.5 314.2 1705.1 312 1707.3 312C1709.5 313.1 1710.2 318.7 1711.5 323.6C1712.8 328.6 1713.9 341.9 1715 341.9C1716.1 341.9 1717.1 329.9 1718 323.6C1718.9 317.4 1719.7 314 1720.5 304.5C1721.3 295.1 1721.8 277.4 1723 266.9C1724.2 256.5 1726.1 249.5 1728 242C1729.9 234.4 1732.4 228.8 1734.3 221.8C1736.2 214.9 1737.6 207 1739.3 200.6C1741 194.1 1742.4 188.1 1744.3 183.1C1746.2 178 1748.5 173.1 1750.6 170.5C1752.7 167.8 1754.5 167 1756.8 167C1759.1 167.6 1762.6 170.5 1764.4 174.2C1766.2 178 1766.6 184.2 1767.5 189.2C1768.4 194.3 1769.1 200 1770 204.3C1770.9 208.7 1771.3 213.2 1773.1 215.6C1774.9 218 1777.8 218.8 1780.7 218.8C1783.6 218.3 1787.8 215.2 1790.7 213.1C1793.6 210.9 1796.1 207.9 1798.2 205.6C1800.3 203.2 1801.1 200.5 1803.2 199.2C1805.3 198.1 1808.6 198.1 1810.7 198.1C1812.8 198.9 1814.4 201.2 1815.7 204.3C1817 207.5 1817.2 212.4 1818.3 216.8C1819.3 221.3 1820.3 230.8 1822 231.2C1823.7 231.2 1826.6 222.8 1828.3 219.3C1830 215.9 1830.5 212.6 1832 210.6C1833.5 208.5 1834.5 207.2 1837 207.2C1839.5 207.9 1844.3 214.1 1847 215C1849.7 215 1851.4 212.1 1853.3 212.1C1855.2 212.4 1856.9 213.6 1858.4 216.8C1859.9 220.1 1860.8 226.6 1862.1 231.8C1863.3 237.1 1864.4 242.7 1865.9 248.2C1867.4 253.6 1869.5 259.2 1870.9 264.4C1872.4 269.7 1873.3 274.2 1874.6 279.4C1875.8 284.7 1877.1 289.9 1878.4 295.8C1879.7 301.6 1881.2 308.6 1882.2 314.5C1883.2 320.5 1883.9 326.3 1884.7 331.6C1885.5 337 1886.2 338.9 1887.2 346.6C1888.2 354.4 1889.9 367.6 1890.9 378C1891.9 388.5 1892.6 398.9 1893.4 409.3C1894.2 419.8 1894.9 431.2 1895.9 440.6C1896.9 450.1 1898.2 466.1 1899.5 466.1C1900.8 465.1 1902.2 446 1903.5 434.4C1904.8 422.9 1906 408.3 1907.2 396.8C1908.5 385.4 1909.3 373.2 1911 365.5C1912.7 357.9 1915.1 350.8 1917.2 350.8C1919.3 351.4 1922 361.6 1923.5 369.2C1925 376.9 1925.2 386 1926 396.8C1926.8 407.7 1927.8 421.9 1928.3 434.4C1928.8 447 1928.8 459.2 1928.9 472C1929.1 484.9 1929.1 501.7 1929.2 511.6C1929.3 521.6 1929.2 526.4 1929.5 531.6C1929.9 536.9 1930.8 543.4 1931.5 543.4C1932.2 543.4 1933.3 536.9 1933.8 531.6C1934.3 526.4 1934.2 519.5 1934.6 511.6C1935 503.8 1935.3 495.3 1936 484.5C1936.7 473.8 1937.8 457.9 1938.6 446.9C1939.4 436 1940.7 423.4 1941.1 418.8"/>
<path d="M223.5 119C228.2 119 243 119.3 252 119.5C261 119.6 269.4 119.7 277.7 120C286 120.2 293.8 120.3 302 120.8C310.2 121.2 320.1 121.6 327 122.4C333.9 123.2 339 124.2 343.4 125.6C347.8 126.9 350.9 128.5 353.4 130.6C355.9 132.6 356.9 134.1 358.4 138.1C359.9 142 361.1 148.1 362.2 154.3C363.2 160.6 364 169 364.7 175.7C365.4 182.3 365.7 188.8 366.5 194.5C367.3 200.1 368.4 209.5 369.7 209.5C370.9 209 372.6 197 374 191.7C375.4 186.3 376.8 178.3 378.4 177.6C380 177.6 381.6 183.6 383.5 187C385.4 190.3 387.8 194.4 389.7 197.6C391.6 200.7 393 203.7 394.7 205.7C396.4 207.6 398.4 207.2 399.7 209.5C401 211.8 401.4 215.7 402.3 219.5C403.2 223.2 403.9 228.1 404.8 232.1C405.7 236 406.9 243.3 407.9 243.3C408.9 242.3 410 230.6 410.9 225.8C411.8 220.9 412 217.1 413.5 214.5C415 211.9 417.5 210.9 419.8 210.2C422.1 209.8 425 209.8 427.3 209.8C429.6 209.8 430.5 209.8 433.6 210.5C436.7 211.5 441.9 213.6 446.1 215.8C450.3 217.9 454.4 220.5 458.6 223.2C462.8 226 467 229.2 471.2 232.1C475.4 234.9 479.5 237.9 483.7 240.2C487.9 242.4 492 245.3 496.2 245.8C500.4 245.8 504.6 244.8 508.8 243.3C513 241.9 517.1 240.2 521.3 237.1C525.5 233.9 529.6 228.9 533.8 224.6C538 220.2 543.4 214.1 546.4 210.8C549.4 207.4 548.1 208 552 204.7C555.9 201.3 562.6 195.4 569.7 190.8C576.8 186.2 585.9 182.5 594.7 177.1C603.5 171.6 612.7 163.7 622.3 158.2C631.9 152.8 642.4 148.5 652.4 144.6C662.4 140.6 673.3 137 682.5 134.5C691.7 131.9 701.2 130.3 707.5 129.4C713.8 129.4 716.6 129.4 720 129.4C723.4 129.9 725.1 131.6 727.6 132C730.1 132 732.3 131.5 735 131.5C737.7 131.8 741 134 743.9 134C746.8 133.2 749.5 128.7 752.6 127C755.7 125.2 758.5 123.5 762.7 123.2C766.9 123.2 773.1 125.7 777.7 125.7C782.3 125 781.9 121.1 790.2 119.5C798.6 117.8 815.3 116.5 827.8 115.7C840.3 114.8 852.9 114.8 865.4 114.5C877.9 114.1 888.4 113.8 903 113.7C917.6 113.7 936.5 113.7 953 113.7C969.5 113.8 981.3 113.8 1002 114.5C1022.7 115.1 1052.1 116.3 1077.2 117.5C1102.3 118.6 1127.3 119.9 1152.4 121.5C1177.5 123 1207.5 125.6 1227.6 127C1247.6 128.3 1259.3 128.3 1272.7 129.4C1286.1 130.6 1298.6 131.4 1307.8 134C1317 136.5 1321.5 140.7 1327.8 144.6C1334.1 148.4 1340.4 152.1 1345.4 157.1C1350.4 162.1 1353.7 169.4 1357.9 174.6C1362.1 179.7 1366.2 187.8 1370.4 187.8C1374.6 187.4 1379.2 175.9 1383 172.1C1386.8 168.2 1388 166.6 1393 164.6C1398 162.5 1406.3 160.6 1413 159.6C1419.7 158.5 1428.1 158.2 1433.1 158.2C1438.1 158.3 1439.7 158.4 1443 159.7C1446.3 160.9 1447.2 163.4 1453.1 165.8C1459 168.3 1472.1 172.2 1478.2 174.6C1484.3 176.9 1485.7 178.8 1489.5 179.8C1493.3 180.8 1496.8 180 1500.8 180.8C1504.8 181.5 1509.1 182.5 1513.3 184.2C1517.5 186 1521.7 188.4 1525.9 191.2C1530.1 193.9 1534.2 196.9 1538.4 200.6C1542.6 204.2 1546.9 208.5 1550.9 213.1C1554.9 217.7 1558.7 223.1 1562.2 228.2C1565.8 233.2 1569.3 237.9 1572.2 243.2C1575.1 248.4 1577.4 253.8 1579.7 259.4C1582 265.1 1584.1 271.5 1586 276.9C1587.9 282.4 1589.5 287 1591 292C1592.5 297.1 1593.3 302 1594.8 307C1596.3 312.1 1598.4 318 1599.8 322.1C1601.2 326.2 1601.7 327.5 1602.9 331.6C1604.2 335.8 1605.8 340.1 1607.3 346.8C1608.8 353.4 1610.5 363.4 1611.7 371.8C1613 380.1 1613.9 388.5 1614.8 396.8C1615.7 405.2 1616.6 413.6 1617.3 421.9C1618 430.3 1618.6 438.6 1619.2 446.9C1619.8 455.3 1620.3 463.7 1621.1 472C1621.9 480.4 1622.6 490.5 1624.2 497C1625.8 503.6 1628.3 508.9 1630.5 511.1C1632.7 511.1 1635.5 510.4 1637.4 510.4C1639.3 511.6 1640.7 514.2 1641.8 517.9C1642.9 521.7 1643.5 527.3 1644.3 532.9C1645.1 538.6 1646.1 544.4 1646.8 551.8C1647.5 559.1 1648.1 568.5 1648.7 576.9C1649.3 585.2 1649.9 593.6 1650.5 601.9C1651.1 610.3 1651.8 618.6 1652.4 626.9C1653 635.3 1653.8 643.7 1654.3 652C1654.8 660.4 1655.2 670.4 1655.6 677C1656 683.6 1656.2 685.7 1656.8 691.6C1657.4 697.6 1658.5 705.2 1659.3 712.9C1660.1 720.7 1660.9 732.6 1661.4 738C1661.9 743.4 1662 745.4 1662.5 745.4C1663 744.3 1663.8 738.2 1664.3 731.8C1664.8 725.3 1665.1 715.1 1665.6 706.8C1666.1 698.4 1666.8 686.7 1667.5 681.6C1668.2 676.6 1668.3 676.6 1669.5 676.6C1670.7 677.1 1673.4 684.1 1674.5 684.1C1675.6 683.2 1675.7 676.2 1676.2 670.9C1676.7 665.5 1677.1 659.4 1677.5 652C1677.9 644.7 1678.3 636.3 1678.7 626.9C1679.1 617.5 1679.6 606.1 1680 595.6C1680.4 585.2 1680.8 574.8 1681.2 564.4C1681.6 553.9 1682.1 543.4 1682.5 532.9C1682.9 522.5 1683.4 509.7 1683.8 501.6C1684.2 493.6 1684.6 491.6 1685 484.5C1685.4 477.5 1685.8 467.8 1686.3 459.4C1686.8 451.1 1687.4 443.8 1688.1 434.4C1688.8 425.1 1689.8 413.6 1690.6 403.1C1691.4 392.7 1692.2 381.1 1693.2 371.8C1694.2 362.4 1695.2 353.9 1696.3 346.8C1697.4 339.6 1699 334.1 1700 329.1C1701 324.2 1700.7 319.9 1702.6 317C1704.5 314.2 1709.1 312 1711.3 312C1713.5 313.1 1714.2 318.7 1715.5 323.6C1716.8 328.6 1717.9 341.9 1719 341.9C1720.1 341.9 1721.1 329.9 1722 323.6C1722.9 317.4 1723.7 314 1724.5 304.5C1725.3 295.1 1725.8 277.4 1727 266.9C1728.2 256.5 1730.1 249.5 1732 242C1733.9 234.4 1736.4 228.8 1738.3 221.8C1740.2 214.9 1741.6 207 1743.3 200.6C1745 194.1 1746.4 188.1 1748.3 183.1C1750.2 178 1752.5 173.1 1754.6 170.5C1756.7 167.8 1758.5 167 1760.8 167C1763.1 167.6 1766.6 170.5 1768.4 174.2C1770.2 178 1770.6 184.2 1771.5 189.2C1772.4 194.3 1773.1 200 1774 204.3C1774.9 208.7 1775.3 213.2 1777.1 215.6C1778.9 218 1781.8 218.8 1784.7 218.8C1787.6 218.3 1791.8 215.2 1794.7 213.1C1797.6 210.9 1800.1 207.9 1802.2 205.6C1804.3 203.2 1805.1 200.5 1807.2 199.2C1809.3 198.1 1812.6 198.1 1814.7 198.1C1816.8 198.9 1818.4 201.2 1819.7 204.3C1821 207.5 1821.2 212.4 1822.3 216.8C1823.3 221.3 1824.3 230.8 1826 231.2C1827.7 231.2 1830.6 222.8 1832.3 219.3C1834 215.9 1834.5 212.6 1836 210.6C1837.5 208.5 1838.5 207.2 1841 207.2C1843.5 207.9 1848.3 214.1 1851 215C1853.7 215 1855.4 212.1 1857.3 212.1C1859.2 212.4 1860.9 213.6 1862.4 216.8C1863.9 220.1 1864.8 226.6 1866.1 231.8C1867.3 237.1 1868.4 242.7 1869.9 248.2C1871.4 253.6 1873.5 259.2 1874.9 264.4C1876.4 269.7 1877.3 274.2 1878.6 279.4C1879.8 284.7 1881.1 289.9 1882.4 295.8C1883.7 301.6 1885.2 308.6 1886.2 314.5C1887.2 320.5 1887.9 326.3 1888.7 331.6C1889.5 337 1890.2 338.9 1891.2 346.6C1892.2 354.4 1893.9 367.6 1894.9 378C1895.9 388.5 1896.6 398.9 1897.4 409.3C1898.2 419.8 1898.9 431.2 1899.9 440.6C1900.9 450.1 1902.2 466.1 1903.5 466.1C1904.8 465.1 1906.2 446 1907.5 434.4C1908.8 422.9 1910 408.3 1911.2 396.8C1912.5 385.4 1913.3 373.2 1915 365.5C1916.7 357.9 1919.1 350.8 1921.2 350.8C1923.3 351.4 1926 361.6 1927.5 369.2C1929 376.9 1929.2 386 1930 396.8C1930.8 407.7 1931.8 421.9 1932.3 434.4C1932.8 447 1932.8 459.2 1932.9 472C1933.1 484.9 1933.1 501.7 1933.2 511.6C1933.3 521.6 1933.2 526.4 1933.5 531.6C1933.9 536.9 1934.8 543.4 1935.5 543.4C1936.2 543.4 1937.3 536.9 1937.8 531.6C1938.3 526.4 1938.2 519.5 1938.6 511.6C1939 503.8 1939.3 495.3 1940 484.5C1940.7 473.8 1941.8 457.9 1942.6 446.9C1943.4 436 1944.7 423.4 1945.1 418.8"/>
<path stroke-width="10.3" d="M221.5 117.3C226.2 117.4 241 117.6 250 117.8C259 118 267.4 118.1 275.7 118.3C284 118.5 291.8 118.7 300 119.1C308.2 119.5 318.1 119.9 325 120.7C331.9 121.5 337 122.5 341.4 123.9C345.8 125.3 348.9 126.8 351.4 128.9C353.9 131 354.9 132.4 356.4 136.4C357.9 140.4 359.1 146.4 360.2 152.7C361.2 159 362 167.3 362.7 174C363.4 180.7 363.7 187.2 364.5 192.8C365.3 198.4 366.4 207.8 367.7 207.8C368.9 207.3 370.6 195.3 372 190C373.4 184.7 374.8 176.7 376.4 175.9C378 175.9 379.6 182 381.5 185.3C383.4 188.6 385.8 192.8 387.7 195.9C389.6 199 391 202 392.7 204C394.4 206 396.4 205.5 397.7 207.8C399 210.1 399.4 214 400.3 217.8C401.2 221.6 401.9 226.4 402.8 230.4C403.7 234.4 404.9 241.7 405.9 241.7C406.9 240.6 408 228.9 408.9 224.1C409.8 219.3 410 215.4 411.5 212.8C413 210.2 415.5 209.3 417.8 208.5C420.1 208.1 423 208.1 425.3 208.1C427.6 208.2 428.5 208.1 431.6 208.8C434.7 209.8 439.9 212 444.1 214.1C448.3 216.2 452.4 218.9 456.6 221.6C460.8 224.3 465 227.6 469.2 230.4C473.4 233.2 477.5 236.2 481.7 238.5C485.9 240.8 490 243.7 494.2 244.2C498.4 244.2 502.6 243.2 506.8 241.7C511 240.2 515.1 238.5 519.3 235.4C523.5 232.3 527.6 227.3 531.8 222.9C536 218.5 541.4 212.4 544.4 209.1C547.4 205.8 546.1 206.3 550 203C553.9 199.7 560.6 193.8 567.7 189.2C574.8 184.6 583.9 180.8 592.7 175.4C601.5 170 610.7 162 620.3 156.6C629.9 151.2 640.4 146.9 650.4 142.9C660.4 138.9 671.3 135.3 680.5 132.8C689.7 130.3 699.2 128.6 705.5 127.8C711.8 127.8 714.6 127.8 718 127.8C721.4 128.2 723.1 130 725.6 130.3C728.1 130.3 730.3 129.8 733 129.8C735.7 130.1 739 132.3 741.9 132.3C744.8 131.6 747.5 127.1 750.6 125.3C753.7 123.5 756.5 121.8 760.7 121.6C764.9 121.6 771.1 124 775.7 124C780.3 123.4 779.9 119.5 788.2 117.8C796.6 116.1 813.3 114.8 825.8 114C838.3 113.2 850.9 113.1 863.4 112.8C875.9 112.5 886.4 112.1 901 112C915.6 112 934.5 112 951 112C967.5 112.1 979.3 112.2 1000 112.8C1020.7 113.4 1050.1 114.6 1075.2 115.8C1100.3 117 1125.3 118.2 1150.4 119.8C1175.5 121.4 1205.5 124 1225.6 125.3C1245.6 126.6 1257.3 126.6 1270.7 127.8C1284.1 129 1296.6 129.8 1305.8 132.3C1315 134.8 1319.5 139.1 1325.8 142.9C1332.1 146.8 1338.4 150.4 1343.4 155.4C1348.4 160.4 1351.7 167.8 1355.9 172.9C1360.1 178 1364.2 186.2 1368.4 186.2C1372.6 185.8 1377.2 174.3 1381 170.4C1384.8 166.5 1386 165 1391 162.9C1396 160.8 1404.3 159 1411 157.9C1417.7 156.8 1426.1 156.6 1431.1 156.6C1436.1 156.6 1437.7 156.7 1441 158C1444.3 159.3 1445.2 161.7 1451.1 164.2C1457 166.7 1470.1 170.6 1476.2 172.9C1482.3 175.2 1483.7 177.2 1487.5 178.2C1491.3 179.1 1494.8 178.4 1498.8 179.1C1502.8 179.8 1507.1 180.9 1511.3 182.6C1515.5 184.3 1519.7 186.8 1523.9 189.5C1528.1 192.2 1532.2 195.2 1536.4 198.9C1540.6 202.6 1544.9 206.8 1548.9 211.4C1552.9 216 1556.7 221.5 1560.2 226.5C1563.8 231.5 1567.3 236.3 1570.2 241.5C1573.1 246.7 1575.4 252.2 1577.7 257.8C1580 263.4 1582.1 269.9 1584 275.3C1585.9 280.7 1587.5 285.4 1589 290.4C1590.5 295.4 1591.3 300.4 1592.8 305.4C1594.3 310.4 1596.4 316.4 1597.8 320.5C1599.2 324.6 1599.7 325.9 1600.9 330C1602.2 334.1 1603.8 338.4 1605.3 345.1C1606.8 351.8 1608.5 361.8 1609.7 370.1C1611 378.5 1611.9 386.8 1612.8 395.2C1613.7 403.6 1614.6 411.9 1615.3 420.3C1616 428.7 1616.6 437 1617.2 445.3C1617.8 453.6 1618.3 462 1619.1 470.4C1619.9 478.8 1620.6 488.9 1622.2 495.4C1623.8 501.9 1626.3 507.3 1628.5 509.5C1630.7 509.5 1633.5 508.8 1635.4 508.8C1637.3 509.9 1638.7 512.5 1639.8 516.3C1640.9 520 1641.5 525.7 1642.3 531.3C1643.1 536.9 1644.1 542.8 1644.8 550.1C1645.5 557.4 1646.1 566.8 1646.7 575.2C1647.3 583.6 1647.9 591.9 1648.5 600.3C1649.1 608.6 1649.8 616.9 1650.4 625.3C1651 633.6 1651.8 642 1652.3 650.4C1652.8 658.8 1653.2 668.8 1653.6 675.4C1654 682 1654.2 684 1654.8 690C1655.4 696 1656.5 703.6 1657.3 711.3C1658.1 719 1658.9 731 1659.4 736.4C1659.9 741.8 1660 743.7 1660.5 743.7C1661 742.7 1661.8 736.5 1662.3 730.1C1662.8 723.7 1663.1 713.5 1663.6 705.1C1664.1 696.8 1664.8 685 1665.5 680C1666.2 675 1666.3 675 1667.5 675C1668.7 675.4 1671.4 682.5 1672.5 682.5C1673.6 681.5 1673.7 674.6 1674.2 669.2C1674.7 663.9 1675.1 657.7 1675.5 650.4C1675.9 643.1 1676.3 634.7 1676.7 625.3C1677.1 615.9 1677.6 604.4 1678 594C1678.4 583.6 1678.8 573.2 1679.2 562.7C1679.6 552.2 1680.1 541.8 1680.5 531.3C1680.9 520.8 1681.4 508.1 1681.8 500C1682.2 491.9 1682.6 489.9 1683 482.9C1683.4 475.9 1683.8 466.1 1684.3 457.8C1684.8 449.5 1685.4 442.2 1686.1 432.8C1686.8 423.4 1687.8 411.9 1688.6 401.5C1689.4 391.1 1690.2 379.5 1691.2 370.1C1692.2 360.7 1693.2 352.2 1694.3 345.1C1695.4 338 1697 332.4 1698 327.5C1699 322.6 1698.7 318.2 1700.6 315.4C1702.5 312.5 1707.1 310.4 1709.3 310.4C1711.5 311.5 1712.2 317 1713.5 322C1714.8 327 1715.9 340.3 1717 340.3C1718.1 340.3 1719.1 328.2 1720 322C1720.9 315.8 1721.7 312.3 1722.5 302.9C1723.3 293.4 1723.8 275.7 1725 265.3C1726.2 254.9 1728.1 247.8 1730 240.3C1731.9 232.8 1734.4 227.1 1736.3 220.2C1738.2 213.3 1739.6 205.4 1741.3 198.9C1743 192.4 1744.4 186.4 1746.3 181.4C1748.2 176.4 1750.5 171.5 1752.6 168.8C1754.7 166.1 1756.5 165.3 1758.8 165.3C1761.1 165.9 1764.6 168.9 1766.4 172.6C1768.2 176.3 1768.6 182.6 1769.5 187.6C1770.4 192.6 1771.1 198.3 1772 202.7C1772.9 207.1 1773.3 211.5 1775.1 213.9C1776.9 216.3 1779.8 217.1 1782.7 217.1C1785.6 216.7 1789.8 213.6 1792.7 211.4C1795.6 209.2 1798.1 206.2 1800.2 203.9C1802.3 201.6 1803.1 198.8 1805.2 197.6C1807.3 196.4 1810.6 196.4 1812.7 196.4C1814.8 197.2 1816.4 199.6 1817.7 202.7C1819 205.8 1819.2 210.7 1820.3 215.2C1821.3 219.7 1822.3 229.2 1824 229.6C1825.7 229.6 1828.6 221.1 1830.3 217.7C1832 214.2 1832.5 210.9 1834 208.9C1835.5 206.9 1836.5 205.5 1839 205.5C1841.5 206.2 1846.3 212.5 1849 213.3C1851.7 213.3 1853.4 210.4 1855.3 210.4C1857.2 210.7 1858.9 211.9 1860.4 215.2C1861.9 218.5 1862.8 225 1864.1 230.2C1865.3 235.4 1866.4 241.1 1867.9 246.5C1869.4 251.9 1871.5 257.6 1872.9 262.8C1874.4 268 1875.3 272.6 1876.6 277.8C1877.8 283 1879.1 288.2 1880.4 294.1C1881.7 300 1883.2 306.9 1884.2 312.9C1885.2 318.9 1885.9 324.6 1886.7 330C1887.5 335.4 1888.2 337.3 1889.2 345C1890.2 352.7 1891.9 365.9 1892.9 376.4C1893.9 386.8 1894.6 397.3 1895.4 407.7C1896.2 418.1 1896.9 429.5 1897.9 439C1898.9 448.5 1900.2 464.5 1901.5 464.5C1902.8 463.5 1904.2 444.4 1905.5 432.8C1906.8 421.2 1908 406.7 1909.2 395.2C1910.5 383.7 1911.3 371.6 1913 363.9C1914.7 356.2 1917.1 349.1 1919.2 349.1C1921.3 349.7 1924 359.9 1925.5 367.6C1927 375.3 1927.2 384.3 1928 395.2C1928.8 406.1 1929.8 420.3 1930.3 432.8C1930.8 445.3 1930.8 457.5 1930.9 470.4C1931.1 483.3 1931.1 500.1 1931.2 510C1931.3 519.9 1931.2 524.7 1931.5 530C1931.9 535.3 1932.8 541.8 1933.5 541.8C1934.2 541.8 1935.3 535.3 1935.8 530C1936.3 524.7 1936.2 517.9 1936.6 510C1937 502.1 1937.3 493.7 1938 482.9C1938.7 472.1 1939.8 456.3 1940.6 445.3C1941.4 434.3 1942.7 421.8 1943.1 417.1"/>
</g>
<path stroke="#990000" d="M279.5 1131.35H414.6"/>
<path stroke="#990000" d="M283.5 1131.35H418.6"/>
<path stroke="#990000" d="M279.5 1134.65H414.6"/>
<path stroke="#990000" d="M283.5 1134.65H418.6"/>
<path stroke="#000080" d="M279.5 1200.35H414.8"/>
<path stroke="#000080" d="M283.5 1200.35H418.8"/>
<path stroke="#000080" d="M279.5 1203.65H414.8"/>
<path stroke="#000080" d="M283.5 1203.65H418.8"/>
</g></g>
<g stroke="#ff8000" stroke-width="8" fill="none" shape-rendering="crispEdges">
<path d="M406 121L406.9 194.7"/>
<path d="M542.3 115.2L545.8 198"/>
<path d="M356.1 534.9L356.1 657.7"/>
<path d="M1370 379L1370 500.8"/>
<path d="M1781 427.8L1781 548.9"/>
<path d="M1821.9 492.9L1821.9 614.7"/>
<path d="M1722.9 692.9L1722.9 815.1"/>
<path d="M1893.1 922.4L1839.9 1045.2"/>
<path d="M1936 944L1936 1067"/>
<path d="M1414.7 1216.9L1651.9 1216.9"/>
</g>
<filter id="bin" x="0" y="0" width="1995" height="1522" filterUnits="userSpaceOnUse" color-interpolation-filters="sRGB"><feComponentTransfer><feFuncA type="discrete" tableValues="0 1 1"/></feComponentTransfer></filter>
<g filter="url(#bin)">
<text transform="translate(99.86 59.6) scale(1.148 1)" font-size="55.4" letter-spacing="-0.8" fill="#000">0.0</text>
<text transform="translate(100.17 187.4) scale(1.148 1)" font-size="55.4" letter-spacing="-0.8" fill="#000">0.2</text>
<text transform="translate(98.62 315.2) scale(1.148 1)" font-size="55.4" letter-spacing="-0.8" fill="#000">0.4</text>
<text transform="translate(99.3 443) scale(1.148 1)" font-size="55.4" letter-spacing="-0.8" fill="#000">0.6</text>
<text transform="translate(99.55 570.8) scale(1.148 1)" font-size="55.4" letter-spacing="-0.8" fill="#000">0.8</text>
<text transform="translate(99.86 698.6) scale(1.148 1)" font-size="55.4" letter-spacing="-0.8" fill="#000">1.0</text>
<text transform="translate(100.17 826.4) scale(1.148 1)" font-size="55.4" letter-spacing="-0.8" fill="#000">1.2</text>
<text transform="translate(98.62 954.2) scale(1.148 1)" font-size="55.4" letter-spacing="-0.8" fill="#000">1.4</text>
<text transform="translate(99.3 1082) scale(1.148 1)" font-size="55.4" letter-spacing="-0.8" fill="#000">1.6</text>
<text transform="translate(99.55 1209.8) scale(1.148 1)" font-size="55.4" letter-spacing="-0.8" fill="#000">1.8</text>
<text transform="translate(99.86 1337.6) scale(1.148 1)" font-size="55.4" letter-spacing="-0.8" fill="#000">2.0</text>
<text transform="translate(161.48 1405.6) scale(1.148 1)" font-size="55.4" letter-spacing="-1.5" fill="#000">4000</text>
<text transform="translate(403.84 1405.6) scale(1.148 1)" font-size="55.4" letter-spacing="-1.5" fill="#000">3500</text>
<text transform="translate(646.2 1405.6) scale(1.148 1)" font-size="55.4" letter-spacing="-1.5" fill="#000">3000</text>
<text transform="translate(888.56 1405.6) scale(1.148 1)" font-size="55.4" letter-spacing="-1.5" fill="#000">2500</text>
<text transform="translate(1130.91 1405.6) scale(1.148 1)" font-size="55.4" letter-spacing="-1.5" fill="#000">2000</text>
<text transform="translate(1373.27 1405.6) scale(1.148 1)" font-size="55.4" letter-spacing="-1.5" fill="#000">1500</text>
<text transform="translate(1615.63 1405.6) scale(1.148 1)" font-size="55.4" letter-spacing="-1.5" fill="#000">1000</text>
<text transform="translate(1873.02 1405.6) scale(1.148 1)" font-size="55.4" letter-spacing="-1.5" fill="#000">500</text>
<text transform="translate(360.36 98.2) scale(1.1 1)" font-size="60" letter-spacing="-0.33" fill="#008000">Al-OH inter-octahedral</text>
<text transform="translate(280.06 698.8) scale(1.1 1)" font-size="60" letter-spacing="-0.37" fill="#008000">Al-OH streching</text>
<text transform="translate(987.99 1228.4) scale(1.1 1)" font-size="60" letter-spacing="-0.29" fill="#008000">Si-O streching</text>
<text transform="translate(1752.3 559.99) rotate(90) scale(1.1 1)" font-size="60" letter-spacing="-2.22" fill="#008000">Silica</text>
<text transform="translate(1814.2 623.69) rotate(90) scale(1.1 1)" font-size="60" letter-spacing="-2.79" fill="#008000">Si-OH</text>
<text transform="translate(1710 818.16) rotate(90) scale(1.1 1)" font-size="60" letter-spacing="-3.08" fill="#008000">Al-Al-OH bonds</text>
<text transform="translate(1806.3 1058.09) rotate(90) scale(1.1 1)" font-size="60" letter-spacing="-2.91" fill="#008000">Si-O-Al</text>
<text transform="translate(1907 1077.59) rotate(90) scale(1.1 1)" font-size="60" letter-spacing="-2.73" fill="#008000">Si-O-Si</text>
<text transform="translate(376.8 522.35) rotate(-90) scale(1.08 1)" font-size="35.6" letter-spacing="-0.63" fill="#000">3695</text>
<text transform="translate(426.9 538.85) rotate(-90) scale(1.08 1)" font-size="35.6" letter-spacing="-0.71" fill="#000">3620</text>
<text transform="translate(516 481.75) rotate(-90) scale(1.08 1)" font-size="35.6" letter-spacing="-0.4" fill="#000">3430</text>
<text transform="translate(1384.8 366.48) rotate(-90) scale(1.08 1)" font-size="35.6" letter-spacing="-0.82" fill="#000">1630</text>
<text transform="translate(1679.3 1297.48) rotate(-90) scale(1.08 1)" font-size="35.6" letter-spacing="-0.58" fill="#000">1032</text>
<text transform="translate(1738.7 678.65) rotate(-90) scale(1.08 1)" font-size="35.6" letter-spacing="-0.79" fill="#000">915</text>
<text transform="translate(1797.5 416.2) rotate(-90) scale(1.08 1)" font-size="35.6" letter-spacing="-0.36" fill="#000">765</text>
<text transform="translate(1840.5 480.41) rotate(-90) scale(1.08 1)" font-size="35.6" letter-spacing="-0.78" fill="#000">690</text>
<text transform="translate(1917.6 905.44) rotate(-90) scale(1.08 1)" font-size="35.6" letter-spacing="-0.82" fill="#000">540</text>
<text transform="translate(1953.6 943.53) rotate(-90) scale(1.08 1)" font-size="35.6" letter-spacing="-1.29" fill="#000">470</text>
<text transform="translate(432.16 1152.4) scale(1.1 1)" font-size="53.6" letter-spacing="0.36" fill="#000">Y-Clay</text>
<text transform="translate(431.99 1221.8) scale(1.1 1)" font-size="53.6" letter-spacing="0.46" fill="#000">L-Clay</text>
<text transform="translate(55.6 810.86) rotate(-90) scale(1.1 1)" font-size="55.8" letter-spacing="-3.03" fill="#000">Transmitance</text>
<text transform="translate(1302 545.9) scale(1.115 1)" font-size="60" fill="#008000">H<tspan font-size="40" dy="16">2</tspan><tspan dy="-16">O</tspan></text>
<text transform="translate(841.4 1490) scale(1.0655 1)" font-size="55">Wavenumber (cm<tspan font-size="37.6" dy="-23.2" letter-spacing="1.2">-</tspan><tspan font-size="37.6" letter-spacing="-0.5">1</tspan><tspan dy="23.2">)</tspan></text>
</g>
</svg></body></html>
